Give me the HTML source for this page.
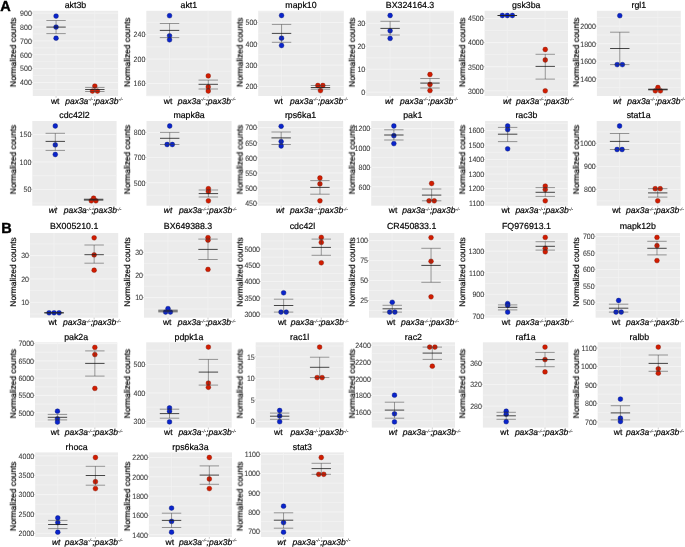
<!DOCTYPE html>
<html><head><meta charset="utf-8"><style>
html,body{margin:0;padding:0;background:#fff;width:685px;height:547px;overflow:hidden}
svg{display:block;will-change:transform}
text{font-family:"Liberation Sans",sans-serif;text-rendering:geometricPrecision;filter:url(#tb)}
.tk{fill:#3a3a3a;stroke:#3a3a3a;stroke-width:0.08}
.tt{fill:#000;stroke:#000;stroke-width:0.2}
.sp{fill:#333;stroke:#333;stroke-width:0.1}
</style></head><body>
<svg width="685" height="547" viewBox="0 0 685 547">
<defs><filter id="tb" x="-10%" y="-30%" width="120%" height="160%"><feGaussianBlur stdDeviation="0.28"/></filter></defs>
<rect width="685" height="547" fill="#fff"/>
<g>
<text x="0.3" y="10.7" font-size="14.5" font-weight="bold" fill="#000" stroke="#000" stroke-width="0.4">A</text>
<text x="1.2" y="232.7" font-size="14.5" font-weight="bold" fill="#000" stroke="#000" stroke-width="0.4">B</text>
<rect x="32.8" y="10.8" width="85.3" height="85.2" fill="#ebebeb"/>
<line x1="32.8" x2="118.1" y1="20.04" y2="20.04" stroke="#f2f2f2" stroke-width="0.8"/>
<line x1="32.8" x2="118.1" y1="33.92" y2="33.92" stroke="#f2f2f2" stroke-width="0.8"/>
<line x1="32.8" x2="118.1" y1="47.8" y2="47.8" stroke="#f2f2f2" stroke-width="0.8"/>
<line x1="32.8" x2="118.1" y1="61.68" y2="61.68" stroke="#f2f2f2" stroke-width="0.8"/>
<line x1="32.8" x2="118.1" y1="75.56" y2="75.56" stroke="#f2f2f2" stroke-width="0.8"/>
<line x1="32.8" x2="118.1" y1="89.44" y2="89.44" stroke="#f2f2f2" stroke-width="0.8"/>
<line x1="32.8" x2="118.1" y1="13.1" y2="13.1" stroke="#f6f6f6" stroke-width="0.8"/>
<line x1="32.8" x2="118.1" y1="26.98" y2="26.98" stroke="#f6f6f6" stroke-width="0.8"/>
<line x1="32.8" x2="118.1" y1="40.86" y2="40.86" stroke="#f6f6f6" stroke-width="0.8"/>
<line x1="32.8" x2="118.1" y1="54.74" y2="54.74" stroke="#f6f6f6" stroke-width="0.8"/>
<line x1="32.8" x2="118.1" y1="68.62" y2="68.62" stroke="#f6f6f6" stroke-width="0.8"/>
<line x1="32.8" x2="118.1" y1="82.5" y2="82.5" stroke="#f6f6f6" stroke-width="0.8"/>
<line x1="56.06" x2="56.06" y1="10.8" y2="96" stroke="#f1f1f1" stroke-width="0.8"/>
<line x1="94.84" x2="94.84" y1="10.8" y2="96" stroke="#f1f1f1" stroke-width="0.8"/>
<line x1="31.5" x2="32.8" y1="13.1" y2="13.1" stroke="#999999" stroke-width="0.5"/>
<text transform="translate(31.8,15.9) scale(0.9,1)" text-anchor="end" font-size="7.8" class="tk">900</text>
<line x1="31.5" x2="32.8" y1="26.98" y2="26.98" stroke="#999999" stroke-width="0.5"/>
<text transform="translate(31.8,29.78) scale(0.9,1)" text-anchor="end" font-size="7.8" class="tk">800</text>
<line x1="31.5" x2="32.8" y1="40.86" y2="40.86" stroke="#999999" stroke-width="0.5"/>
<text transform="translate(31.8,43.66) scale(0.9,1)" text-anchor="end" font-size="7.8" class="tk">700</text>
<line x1="31.5" x2="32.8" y1="54.74" y2="54.74" stroke="#999999" stroke-width="0.5"/>
<text transform="translate(31.8,57.54) scale(0.9,1)" text-anchor="end" font-size="7.8" class="tk">600</text>
<line x1="31.5" x2="32.8" y1="68.62" y2="68.62" stroke="#999999" stroke-width="0.5"/>
<text transform="translate(31.8,71.42) scale(0.9,1)" text-anchor="end" font-size="7.8" class="tk">500</text>
<line x1="31.5" x2="32.8" y1="82.5" y2="82.5" stroke="#999999" stroke-width="0.5"/>
<text transform="translate(31.8,85.3) scale(0.9,1)" text-anchor="end" font-size="7.8" class="tk">400</text>
<line x1="56.06" x2="56.06" y1="96" y2="97.8" stroke="#999999" stroke-width="0.5"/>
<line x1="94.84" x2="94.84" y1="96" y2="97.8" stroke="#999999" stroke-width="0.5"/>
<circle cx="56.06" cy="16.1" r="2.4" fill="#0a24cc" stroke="#00106a" stroke-width="0.4"/>
<circle cx="56.06" cy="27.1" r="2.4" fill="#0a24cc" stroke="#00106a" stroke-width="0.4"/>
<circle cx="56.06" cy="38.2" r="2.4" fill="#0a24cc" stroke="#00106a" stroke-width="0.4"/>
<circle cx="94.84" cy="86.1" r="2.4" fill="#d21c00" stroke="#7a0e00" stroke-width="0.4"/>
<circle cx="92.44" cy="91.1" r="2.4" fill="#d21c00" stroke="#7a0e00" stroke-width="0.4"/>
<circle cx="97.44" cy="91.1" r="2.4" fill="#d21c00" stroke="#7a0e00" stroke-width="0.4"/>
<line x1="56.06" x2="56.06" y1="20.5" y2="33.6" stroke="#3a3a3a" stroke-width="0.5"/>
<line x1="46.36" x2="65.76" y1="20.5" y2="20.5" stroke="#3a3a3a" stroke-width="0.5"/>
<line x1="46.36" x2="65.76" y1="33.6" y2="33.6" stroke="#3a3a3a" stroke-width="0.5"/>
<line x1="46.36" x2="65.76" y1="27.1" y2="27.1" stroke="#1a1a1a" stroke-width="0.8"/>
<line x1="94.84" x2="94.84" y1="87.4" y2="91.5" stroke="#3a3a3a" stroke-width="0.5"/>
<line x1="85.14" x2="104.54" y1="87.4" y2="87.4" stroke="#3a3a3a" stroke-width="0.5"/>
<line x1="85.14" x2="104.54" y1="91.5" y2="91.5" stroke="#3a3a3a" stroke-width="0.5"/>
<line x1="85.14" x2="104.54" y1="89.5" y2="89.5" stroke="#1a1a1a" stroke-width="0.8"/>
<text x="75.45" y="8.3" text-anchor="middle" font-size="8.8" class="tt">akt3b</text>
<text transform="translate(15.95,52.3) rotate(-90)" text-anchor="middle" font-size="8.4" class="tt">Normalized counts</text>
<text x="50.9" y="103.6" font-size="8.5" class="tt">wt</text>
<text x="65.2" y="103.6" font-size="8.5" font-style="italic" class="tt">pax3a<tspan font-size="4.8" dy="-2.5" class="sp">-/-</tspan><tspan dy="2.5">;pax3b</tspan><tspan font-size="4.8" dy="-2.5" class="sp">-/-</tspan></text>
<rect x="146.3" y="10.8" width="85.2" height="85.2" fill="#ebebeb"/>
<line x1="146.3" x2="231.5" y1="22.38" y2="22.38" stroke="#f2f2f2" stroke-width="0.8"/>
<line x1="146.3" x2="231.5" y1="46.83" y2="46.83" stroke="#f2f2f2" stroke-width="0.8"/>
<line x1="146.3" x2="231.5" y1="71.28" y2="71.28" stroke="#f2f2f2" stroke-width="0.8"/>
<line x1="146.3" x2="231.5" y1="95.72" y2="95.72" stroke="#f2f2f2" stroke-width="0.8"/>
<line x1="146.3" x2="231.5" y1="34.6" y2="34.6" stroke="#f6f6f6" stroke-width="0.8"/>
<line x1="146.3" x2="231.5" y1="59.05" y2="59.05" stroke="#f6f6f6" stroke-width="0.8"/>
<line x1="146.3" x2="231.5" y1="83.5" y2="83.5" stroke="#f6f6f6" stroke-width="0.8"/>
<line x1="169.54" x2="169.54" y1="10.8" y2="96" stroke="#f1f1f1" stroke-width="0.8"/>
<line x1="208.26" x2="208.26" y1="10.8" y2="96" stroke="#f1f1f1" stroke-width="0.8"/>
<line x1="145" x2="146.3" y1="34.6" y2="34.6" stroke="#999999" stroke-width="0.5"/>
<text transform="translate(145.3,37.4) scale(0.9,1)" text-anchor="end" font-size="7.8" class="tk">240</text>
<line x1="145" x2="146.3" y1="59.05" y2="59.05" stroke="#999999" stroke-width="0.5"/>
<text transform="translate(145.3,61.85) scale(0.9,1)" text-anchor="end" font-size="7.8" class="tk">200</text>
<line x1="145" x2="146.3" y1="83.5" y2="83.5" stroke="#999999" stroke-width="0.5"/>
<text transform="translate(145.3,86.3) scale(0.9,1)" text-anchor="end" font-size="7.8" class="tk">160</text>
<line x1="169.54" x2="169.54" y1="96" y2="97.8" stroke="#999999" stroke-width="0.5"/>
<line x1="208.26" x2="208.26" y1="96" y2="97.8" stroke="#999999" stroke-width="0.5"/>
<circle cx="169.54" cy="15.7" r="2.4" fill="#0a24cc" stroke="#00106a" stroke-width="0.4"/>
<circle cx="169.54" cy="35.8" r="2.4" fill="#0a24cc" stroke="#00106a" stroke-width="0.4"/>
<circle cx="169.54" cy="39.8" r="2.4" fill="#0a24cc" stroke="#00106a" stroke-width="0.4"/>
<circle cx="208.26" cy="75.9" r="2.4" fill="#d21c00" stroke="#7a0e00" stroke-width="0.4"/>
<circle cx="208.26" cy="86.9" r="2.4" fill="#d21c00" stroke="#7a0e00" stroke-width="0.4"/>
<circle cx="208.26" cy="91" r="2.4" fill="#d21c00" stroke="#7a0e00" stroke-width="0.4"/>
<line x1="169.54" x2="169.54" y1="23.5" y2="37.6" stroke="#3a3a3a" stroke-width="0.5"/>
<line x1="159.84" x2="179.24" y1="23.5" y2="23.5" stroke="#3a3a3a" stroke-width="0.5"/>
<line x1="159.84" x2="179.24" y1="37.6" y2="37.6" stroke="#3a3a3a" stroke-width="0.5"/>
<line x1="159.84" x2="179.24" y1="30.4" y2="30.4" stroke="#1a1a1a" stroke-width="0.8"/>
<line x1="208.26" x2="208.26" y1="80.1" y2="89" stroke="#3a3a3a" stroke-width="0.5"/>
<line x1="198.56" x2="217.96" y1="80.1" y2="80.1" stroke="#3a3a3a" stroke-width="0.5"/>
<line x1="198.56" x2="217.96" y1="89" y2="89" stroke="#3a3a3a" stroke-width="0.5"/>
<line x1="198.56" x2="217.96" y1="84.3" y2="84.3" stroke="#1a1a1a" stroke-width="0.8"/>
<text x="188.9" y="8.3" text-anchor="middle" font-size="8.8" class="tt">akt1</text>
<text transform="translate(130.05,52.3) rotate(-90)" text-anchor="middle" font-size="8.4" class="tt">Normalized counts</text>
<text x="163.8" y="103.6" font-size="8.5" class="tt">wt</text>
<text x="177.8" y="103.6" font-size="8.5" font-style="italic" class="tt">pax3a<tspan font-size="4.8" dy="-2.5" class="sp">-/-</tspan><tspan dy="2.5">;pax3b</tspan><tspan font-size="4.8" dy="-2.5" class="sp">-/-</tspan></text>
<rect x="258.2" y="10.8" width="85.6" height="85.2" fill="#ebebeb"/>
<line x1="258.2" x2="343.8" y1="11.83" y2="11.83" stroke="#f2f2f2" stroke-width="0.8"/>
<line x1="258.2" x2="343.8" y1="33.17" y2="33.17" stroke="#f2f2f2" stroke-width="0.8"/>
<line x1="258.2" x2="343.8" y1="54.5" y2="54.5" stroke="#f2f2f2" stroke-width="0.8"/>
<line x1="258.2" x2="343.8" y1="75.83" y2="75.83" stroke="#f2f2f2" stroke-width="0.8"/>
<line x1="258.2" x2="343.8" y1="22.5" y2="22.5" stroke="#f6f6f6" stroke-width="0.8"/>
<line x1="258.2" x2="343.8" y1="43.83" y2="43.83" stroke="#f6f6f6" stroke-width="0.8"/>
<line x1="258.2" x2="343.8" y1="65.17" y2="65.17" stroke="#f6f6f6" stroke-width="0.8"/>
<line x1="258.2" x2="343.8" y1="86.5" y2="86.5" stroke="#f6f6f6" stroke-width="0.8"/>
<line x1="281.55" x2="281.55" y1="10.8" y2="96" stroke="#f1f1f1" stroke-width="0.8"/>
<line x1="320.45" x2="320.45" y1="10.8" y2="96" stroke="#f1f1f1" stroke-width="0.8"/>
<line x1="256.9" x2="258.2" y1="22.5" y2="22.5" stroke="#999999" stroke-width="0.5"/>
<text transform="translate(257.2,25.3) scale(0.9,1)" text-anchor="end" font-size="7.8" class="tk">500</text>
<line x1="256.9" x2="258.2" y1="43.83" y2="43.83" stroke="#999999" stroke-width="0.5"/>
<text transform="translate(257.2,46.63) scale(0.9,1)" text-anchor="end" font-size="7.8" class="tk">400</text>
<line x1="256.9" x2="258.2" y1="65.17" y2="65.17" stroke="#999999" stroke-width="0.5"/>
<text transform="translate(257.2,67.97) scale(0.9,1)" text-anchor="end" font-size="7.8" class="tk">300</text>
<line x1="256.9" x2="258.2" y1="86.5" y2="86.5" stroke="#999999" stroke-width="0.5"/>
<text transform="translate(257.2,89.3) scale(0.9,1)" text-anchor="end" font-size="7.8" class="tk">200</text>
<line x1="281.55" x2="281.55" y1="96" y2="97.8" stroke="#999999" stroke-width="0.5"/>
<line x1="320.45" x2="320.45" y1="96" y2="97.8" stroke="#999999" stroke-width="0.5"/>
<circle cx="281.55" cy="15.5" r="2.4" fill="#0a24cc" stroke="#00106a" stroke-width="0.4"/>
<circle cx="281.55" cy="38.2" r="2.4" fill="#0a24cc" stroke="#00106a" stroke-width="0.4"/>
<circle cx="281.55" cy="45.5" r="2.4" fill="#0a24cc" stroke="#00106a" stroke-width="0.4"/>
<circle cx="317.85" cy="85.5" r="2.4" fill="#d21c00" stroke="#7a0e00" stroke-width="0.4"/>
<circle cx="322.85" cy="85.5" r="2.4" fill="#d21c00" stroke="#7a0e00" stroke-width="0.4"/>
<circle cx="320.45" cy="90.6" r="2.4" fill="#d21c00" stroke="#7a0e00" stroke-width="0.4"/>
<line x1="281.55" x2="281.55" y1="24.4" y2="42.3" stroke="#3a3a3a" stroke-width="0.5"/>
<line x1="271.85" x2="291.25" y1="24.4" y2="24.4" stroke="#3a3a3a" stroke-width="0.5"/>
<line x1="271.85" x2="291.25" y1="42.3" y2="42.3" stroke="#3a3a3a" stroke-width="0.5"/>
<line x1="271.85" x2="291.25" y1="33.4" y2="33.4" stroke="#1a1a1a" stroke-width="0.8"/>
<line x1="320.45" x2="320.45" y1="85.5" y2="89.2" stroke="#3a3a3a" stroke-width="0.5"/>
<line x1="310.75" x2="330.15" y1="85.5" y2="85.5" stroke="#3a3a3a" stroke-width="0.5"/>
<line x1="310.75" x2="330.15" y1="89.2" y2="89.2" stroke="#3a3a3a" stroke-width="0.5"/>
<line x1="310.75" x2="330.15" y1="87.5" y2="87.5" stroke="#1a1a1a" stroke-width="0.8"/>
<text x="301" y="8.3" text-anchor="middle" font-size="8.8" class="tt">mapk10</text>
<text transform="translate(242.65,52.3) rotate(-90)" text-anchor="middle" font-size="8.4" class="tt">Normalized counts</text>
<text x="274.3" y="103.6" font-size="8.5" class="tt">wt</text>
<text x="290.1" y="103.6" font-size="8.5" font-style="italic" class="tt">pax3a<tspan font-size="4.8" dy="-2.5" class="sp">-/-</tspan><tspan dy="2.5">;pax3b</tspan><tspan font-size="4.8" dy="-2.5" class="sp">-/-</tspan></text>
<rect x="366.2" y="10.8" width="87.7" height="85.2" fill="#ebebeb"/>
<line x1="366.2" x2="453.9" y1="11.82" y2="11.82" stroke="#f2f2f2" stroke-width="0.8"/>
<line x1="366.2" x2="453.9" y1="34.78" y2="34.78" stroke="#f2f2f2" stroke-width="0.8"/>
<line x1="366.2" x2="453.9" y1="57.75" y2="57.75" stroke="#f2f2f2" stroke-width="0.8"/>
<line x1="366.2" x2="453.9" y1="80.72" y2="80.72" stroke="#f2f2f2" stroke-width="0.8"/>
<line x1="366.2" x2="453.9" y1="23.3" y2="23.3" stroke="#f6f6f6" stroke-width="0.8"/>
<line x1="366.2" x2="453.9" y1="46.27" y2="46.27" stroke="#f6f6f6" stroke-width="0.8"/>
<line x1="366.2" x2="453.9" y1="69.23" y2="69.23" stroke="#f6f6f6" stroke-width="0.8"/>
<line x1="366.2" x2="453.9" y1="92.2" y2="92.2" stroke="#f6f6f6" stroke-width="0.8"/>
<line x1="390.12" x2="390.12" y1="10.8" y2="96" stroke="#f1f1f1" stroke-width="0.8"/>
<line x1="429.98" x2="429.98" y1="10.8" y2="96" stroke="#f1f1f1" stroke-width="0.8"/>
<line x1="364.9" x2="366.2" y1="23.3" y2="23.3" stroke="#999999" stroke-width="0.5"/>
<text transform="translate(365.2,26.1) scale(0.9,1)" text-anchor="end" font-size="7.8" class="tk">30</text>
<line x1="364.9" x2="366.2" y1="46.27" y2="46.27" stroke="#999999" stroke-width="0.5"/>
<text transform="translate(365.2,49.07) scale(0.9,1)" text-anchor="end" font-size="7.8" class="tk">20</text>
<line x1="364.9" x2="366.2" y1="69.23" y2="69.23" stroke="#999999" stroke-width="0.5"/>
<text transform="translate(365.2,72.03) scale(0.9,1)" text-anchor="end" font-size="7.8" class="tk">10</text>
<line x1="364.9" x2="366.2" y1="92.2" y2="92.2" stroke="#999999" stroke-width="0.5"/>
<text transform="translate(365.2,95) scale(0.9,1)" text-anchor="end" font-size="7.8" class="tk">0</text>
<line x1="390.12" x2="390.12" y1="96" y2="97.8" stroke="#999999" stroke-width="0.5"/>
<line x1="429.98" x2="429.98" y1="96" y2="97.8" stroke="#999999" stroke-width="0.5"/>
<circle cx="390.12" cy="15.5" r="2.4" fill="#0a24cc" stroke="#00106a" stroke-width="0.4"/>
<circle cx="390.12" cy="30.8" r="2.4" fill="#0a24cc" stroke="#00106a" stroke-width="0.4"/>
<circle cx="390.12" cy="38.4" r="2.4" fill="#0a24cc" stroke="#00106a" stroke-width="0.4"/>
<circle cx="429.98" cy="74.5" r="2.4" fill="#d21c00" stroke="#7a0e00" stroke-width="0.4"/>
<circle cx="429.98" cy="84.5" r="2.4" fill="#d21c00" stroke="#7a0e00" stroke-width="0.4"/>
<circle cx="429.98" cy="90.6" r="2.4" fill="#d21c00" stroke="#7a0e00" stroke-width="0.4"/>
<line x1="390.12" x2="390.12" y1="21.3" y2="35" stroke="#3a3a3a" stroke-width="0.5"/>
<line x1="380.42" x2="399.82" y1="21.3" y2="21.3" stroke="#3a3a3a" stroke-width="0.5"/>
<line x1="380.42" x2="399.82" y1="35" y2="35" stroke="#3a3a3a" stroke-width="0.5"/>
<line x1="380.42" x2="399.82" y1="28.4" y2="28.4" stroke="#1a1a1a" stroke-width="0.8"/>
<line x1="429.98" x2="429.98" y1="78.5" y2="88" stroke="#3a3a3a" stroke-width="0.5"/>
<line x1="420.28" x2="439.68" y1="78.5" y2="78.5" stroke="#3a3a3a" stroke-width="0.5"/>
<line x1="420.28" x2="439.68" y1="88" y2="88" stroke="#3a3a3a" stroke-width="0.5"/>
<line x1="420.28" x2="439.68" y1="83.1" y2="83.1" stroke="#1a1a1a" stroke-width="0.8"/>
<text x="410.05" y="8.3" text-anchor="middle" font-size="8.8" class="tt">BX324164.3</text>
<text transform="translate(354.85,52.3) rotate(-90)" text-anchor="middle" font-size="8.4" class="tt">Normalized counts</text>
<text x="384.9" y="103.6" font-size="8.5" font-style="italic" class="tt">wt</text>
<text x="400.1" y="103.6" font-size="8.5" font-style="italic" class="tt">pax3a<tspan font-size="4.8" dy="-2.5" class="sp">-/-</tspan><tspan dy="2.5">;pax3b</tspan><tspan font-size="4.8" dy="-2.5" class="sp">-/-</tspan></text>
<rect x="484.6" y="10.8" width="83.4" height="85.2" fill="#ebebeb"/>
<line x1="484.6" x2="568" y1="30.55" y2="30.55" stroke="#f2f2f2" stroke-width="0.8"/>
<line x1="484.6" x2="568" y1="54.65" y2="54.65" stroke="#f2f2f2" stroke-width="0.8"/>
<line x1="484.6" x2="568" y1="78.75" y2="78.75" stroke="#f2f2f2" stroke-width="0.8"/>
<line x1="484.6" x2="568" y1="18.5" y2="18.5" stroke="#f6f6f6" stroke-width="0.8"/>
<line x1="484.6" x2="568" y1="42.6" y2="42.6" stroke="#f6f6f6" stroke-width="0.8"/>
<line x1="484.6" x2="568" y1="66.7" y2="66.7" stroke="#f6f6f6" stroke-width="0.8"/>
<line x1="484.6" x2="568" y1="90.8" y2="90.8" stroke="#f6f6f6" stroke-width="0.8"/>
<line x1="507.35" x2="507.35" y1="10.8" y2="96" stroke="#f1f1f1" stroke-width="0.8"/>
<line x1="545.25" x2="545.25" y1="10.8" y2="96" stroke="#f1f1f1" stroke-width="0.8"/>
<line x1="483.3" x2="484.6" y1="18.5" y2="18.5" stroke="#999999" stroke-width="0.5"/>
<text transform="translate(483.6,21.3) scale(0.9,1)" text-anchor="end" font-size="7.8" class="tk">4500</text>
<line x1="483.3" x2="484.6" y1="42.6" y2="42.6" stroke="#999999" stroke-width="0.5"/>
<text transform="translate(483.6,45.4) scale(0.9,1)" text-anchor="end" font-size="7.8" class="tk">4000</text>
<line x1="483.3" x2="484.6" y1="66.7" y2="66.7" stroke="#999999" stroke-width="0.5"/>
<text transform="translate(483.6,69.5) scale(0.9,1)" text-anchor="end" font-size="7.8" class="tk">3500</text>
<line x1="483.3" x2="484.6" y1="90.8" y2="90.8" stroke="#999999" stroke-width="0.5"/>
<text transform="translate(483.6,93.6) scale(0.9,1)" text-anchor="end" font-size="7.8" class="tk">3000</text>
<line x1="507.35" x2="507.35" y1="96" y2="97.8" stroke="#999999" stroke-width="0.5"/>
<line x1="545.25" x2="545.25" y1="96" y2="97.8" stroke="#999999" stroke-width="0.5"/>
<circle cx="502.35" cy="15.5" r="2.4" fill="#0a24cc" stroke="#00106a" stroke-width="0.4"/>
<circle cx="507.35" cy="15.5" r="2.4" fill="#0a24cc" stroke="#00106a" stroke-width="0.4"/>
<circle cx="512.35" cy="15.5" r="2.4" fill="#0a24cc" stroke="#00106a" stroke-width="0.4"/>
<circle cx="545.25" cy="49.5" r="2.4" fill="#d21c00" stroke="#7a0e00" stroke-width="0.4"/>
<circle cx="545.25" cy="60" r="2.4" fill="#d21c00" stroke="#7a0e00" stroke-width="0.4"/>
<circle cx="545.25" cy="90.8" r="2.4" fill="#d21c00" stroke="#7a0e00" stroke-width="0.4"/>
<line x1="507.35" x2="507.35" y1="15.5" y2="15.5" stroke="#3a3a3a" stroke-width="0.5"/>
<line x1="497.65" x2="517.05" y1="15.5" y2="15.5" stroke="#3a3a3a" stroke-width="0.5"/>
<line x1="497.65" x2="517.05" y1="15.5" y2="15.5" stroke="#3a3a3a" stroke-width="0.5"/>
<line x1="497.65" x2="517.05" y1="15.5" y2="15.5" stroke="#1a1a1a" stroke-width="0.8"/>
<line x1="545.25" x2="545.25" y1="54.3" y2="79.1" stroke="#3a3a3a" stroke-width="0.5"/>
<line x1="535.55" x2="554.95" y1="54.3" y2="54.3" stroke="#3a3a3a" stroke-width="0.5"/>
<line x1="535.55" x2="554.95" y1="79.1" y2="79.1" stroke="#3a3a3a" stroke-width="0.5"/>
<line x1="535.55" x2="554.95" y1="66.4" y2="66.4" stroke="#1a1a1a" stroke-width="0.8"/>
<text x="526.3" y="8.3" text-anchor="middle" font-size="8.8" class="tt">gsk3ba</text>
<text transform="translate(465.15,52.3) rotate(-90)" text-anchor="middle" font-size="8.4" class="tt">Normalized counts</text>
<text x="502.9" y="103.6" font-size="8.5" font-style="italic" class="tt">wt</text>
<text x="516" y="103.6" font-size="8.5" font-style="italic" class="tt">pax3a<tspan font-size="4.8" dy="-2.5" class="sp">-/-</tspan><tspan dy="2.5">;pax3b</tspan><tspan font-size="4.8" dy="-2.5" class="sp">-/-</tspan></text>
<rect x="596.9" y="10.8" width="83.9" height="85.2" fill="#ebebeb"/>
<line x1="596.9" x2="680.8" y1="17.45" y2="17.45" stroke="#f2f2f2" stroke-width="0.8"/>
<line x1="596.9" x2="680.8" y1="34.95" y2="34.95" stroke="#f2f2f2" stroke-width="0.8"/>
<line x1="596.9" x2="680.8" y1="52.45" y2="52.45" stroke="#f2f2f2" stroke-width="0.8"/>
<line x1="596.9" x2="680.8" y1="69.95" y2="69.95" stroke="#f2f2f2" stroke-width="0.8"/>
<line x1="596.9" x2="680.8" y1="87.45" y2="87.45" stroke="#f2f2f2" stroke-width="0.8"/>
<line x1="596.9" x2="680.8" y1="26.2" y2="26.2" stroke="#f6f6f6" stroke-width="0.8"/>
<line x1="596.9" x2="680.8" y1="43.7" y2="43.7" stroke="#f6f6f6" stroke-width="0.8"/>
<line x1="596.9" x2="680.8" y1="61.2" y2="61.2" stroke="#f6f6f6" stroke-width="0.8"/>
<line x1="596.9" x2="680.8" y1="78.7" y2="78.7" stroke="#f6f6f6" stroke-width="0.8"/>
<line x1="619.78" x2="619.78" y1="10.8" y2="96" stroke="#f1f1f1" stroke-width="0.8"/>
<line x1="657.92" x2="657.92" y1="10.8" y2="96" stroke="#f1f1f1" stroke-width="0.8"/>
<line x1="595.6" x2="596.9" y1="26.2" y2="26.2" stroke="#999999" stroke-width="0.5"/>
<text transform="translate(595.9,29) scale(0.9,1)" text-anchor="end" font-size="7.8" class="tk">2000</text>
<line x1="595.6" x2="596.9" y1="43.7" y2="43.7" stroke="#999999" stroke-width="0.5"/>
<text transform="translate(595.9,46.5) scale(0.9,1)" text-anchor="end" font-size="7.8" class="tk">1800</text>
<line x1="595.6" x2="596.9" y1="61.2" y2="61.2" stroke="#999999" stroke-width="0.5"/>
<text transform="translate(595.9,64) scale(0.9,1)" text-anchor="end" font-size="7.8" class="tk">1600</text>
<line x1="595.6" x2="596.9" y1="78.7" y2="78.7" stroke="#999999" stroke-width="0.5"/>
<text transform="translate(595.9,81.5) scale(0.9,1)" text-anchor="end" font-size="7.8" class="tk">1400</text>
<line x1="619.78" x2="619.78" y1="96" y2="97.8" stroke="#999999" stroke-width="0.5"/>
<line x1="657.92" x2="657.92" y1="96" y2="97.8" stroke="#999999" stroke-width="0.5"/>
<circle cx="619.78" cy="15.7" r="2.4" fill="#0a24cc" stroke="#00106a" stroke-width="0.4"/>
<circle cx="617.18" cy="64.6" r="2.4" fill="#0a24cc" stroke="#00106a" stroke-width="0.4"/>
<circle cx="622.38" cy="64.6" r="2.4" fill="#0a24cc" stroke="#00106a" stroke-width="0.4"/>
<circle cx="657.92" cy="87.5" r="2.4" fill="#d21c00" stroke="#7a0e00" stroke-width="0.4"/>
<circle cx="655.32" cy="90.8" r="2.4" fill="#d21c00" stroke="#7a0e00" stroke-width="0.4"/>
<circle cx="660.42" cy="90.8" r="2.4" fill="#d21c00" stroke="#7a0e00" stroke-width="0.4"/>
<line x1="619.78" x2="619.78" y1="32.2" y2="64.6" stroke="#3a3a3a" stroke-width="0.5"/>
<line x1="610.08" x2="629.48" y1="32.2" y2="32.2" stroke="#3a3a3a" stroke-width="0.5"/>
<line x1="610.08" x2="629.48" y1="64.6" y2="64.6" stroke="#3a3a3a" stroke-width="0.5"/>
<line x1="610.08" x2="629.48" y1="48.5" y2="48.5" stroke="#1a1a1a" stroke-width="0.8"/>
<line x1="657.92" x2="657.92" y1="88.9" y2="90.1" stroke="#3a3a3a" stroke-width="0.5"/>
<line x1="648.22" x2="667.62" y1="88.9" y2="88.9" stroke="#3a3a3a" stroke-width="0.5"/>
<line x1="648.22" x2="667.62" y1="90.1" y2="90.1" stroke="#3a3a3a" stroke-width="0.5"/>
<line x1="648.22" x2="667.62" y1="89.5" y2="89.5" stroke="#1a1a1a" stroke-width="0.8"/>
<text x="638.85" y="8.3" text-anchor="middle" font-size="8.8" class="tt">rgl1</text>
<text transform="translate(578.95,52.3) rotate(-90)" text-anchor="middle" font-size="8.4" class="tt">Normalized counts</text>
<text x="612.9" y="103.6" font-size="8.5" font-style="italic" class="tt">wt</text>
<text x="627.2" y="103.6" font-size="8.5" font-style="italic" class="tt">pax3a<tspan font-size="4.8" dy="-2.5" class="sp">-/-</tspan><tspan dy="2.5">;pax3b</tspan><tspan font-size="4.8" dy="-2.5" class="sp">-/-</tspan></text>
<rect x="32.3" y="121" width="84.3" height="84.7" fill="#ebebeb"/>
<line x1="32.3" x2="116.6" y1="148.3" y2="148.3" stroke="#f2f2f2" stroke-width="0.8"/>
<line x1="32.3" x2="116.6" y1="175.7" y2="175.7" stroke="#f2f2f2" stroke-width="0.8"/>
<line x1="32.3" x2="116.6" y1="203.1" y2="203.1" stroke="#f2f2f2" stroke-width="0.8"/>
<line x1="32.3" x2="116.6" y1="134.6" y2="134.6" stroke="#f6f6f6" stroke-width="0.8"/>
<line x1="32.3" x2="116.6" y1="162" y2="162" stroke="#f6f6f6" stroke-width="0.8"/>
<line x1="32.3" x2="116.6" y1="189.4" y2="189.4" stroke="#f6f6f6" stroke-width="0.8"/>
<line x1="55.29" x2="55.29" y1="121" y2="205.7" stroke="#f1f1f1" stroke-width="0.8"/>
<line x1="93.61" x2="93.61" y1="121" y2="205.7" stroke="#f1f1f1" stroke-width="0.8"/>
<line x1="31" x2="32.3" y1="134.6" y2="134.6" stroke="#999999" stroke-width="0.5"/>
<text transform="translate(31.3,137.4) scale(0.9,1)" text-anchor="end" font-size="7.8" class="tk">150</text>
<line x1="31" x2="32.3" y1="162" y2="162" stroke="#999999" stroke-width="0.5"/>
<text transform="translate(31.3,164.8) scale(0.9,1)" text-anchor="end" font-size="7.8" class="tk">100</text>
<line x1="31" x2="32.3" y1="189.4" y2="189.4" stroke="#999999" stroke-width="0.5"/>
<text transform="translate(31.3,192.2) scale(0.9,1)" text-anchor="end" font-size="7.8" class="tk">50</text>
<line x1="55.29" x2="55.29" y1="205.7" y2="207.5" stroke="#999999" stroke-width="0.5"/>
<line x1="93.61" x2="93.61" y1="205.7" y2="207.5" stroke="#999999" stroke-width="0.5"/>
<circle cx="55.29" cy="126" r="2.4" fill="#0a24cc" stroke="#00106a" stroke-width="0.4"/>
<circle cx="55.29" cy="144.9" r="2.4" fill="#0a24cc" stroke="#00106a" stroke-width="0.4"/>
<circle cx="55.29" cy="154.5" r="2.4" fill="#0a24cc" stroke="#00106a" stroke-width="0.4"/>
<circle cx="93.61" cy="198.2" r="2.4" fill="#d21c00" stroke="#7a0e00" stroke-width="0.4"/>
<circle cx="91.31" cy="200.8" r="2.4" fill="#d21c00" stroke="#7a0e00" stroke-width="0.4"/>
<circle cx="95.91" cy="200.8" r="2.4" fill="#d21c00" stroke="#7a0e00" stroke-width="0.4"/>
<line x1="55.29" x2="55.29" y1="133.3" y2="150.4" stroke="#3a3a3a" stroke-width="0.5"/>
<line x1="45.59" x2="64.99" y1="133.3" y2="133.3" stroke="#3a3a3a" stroke-width="0.5"/>
<line x1="45.59" x2="64.99" y1="150.4" y2="150.4" stroke="#3a3a3a" stroke-width="0.5"/>
<line x1="45.59" x2="64.99" y1="141.4" y2="141.4" stroke="#1a1a1a" stroke-width="0.8"/>
<line x1="93.61" x2="93.61" y1="199" y2="200.4" stroke="#3a3a3a" stroke-width="0.5"/>
<line x1="83.91" x2="103.31" y1="199" y2="199" stroke="#3a3a3a" stroke-width="0.5"/>
<line x1="83.91" x2="103.31" y1="200.4" y2="200.4" stroke="#3a3a3a" stroke-width="0.5"/>
<line x1="83.91" x2="103.31" y1="199.7" y2="199.7" stroke="#1a1a1a" stroke-width="0.8"/>
<text x="74.45" y="117.6" text-anchor="middle" font-size="8.8" class="tt">cdc42l2</text>
<text transform="translate(15.95,159.5) rotate(-90)" text-anchor="middle" font-size="8.4" class="tt">Normalized counts</text>
<text x="48.7" y="213.3" font-size="8.5" font-style="italic" class="tt">wt</text>
<text x="63.7" y="213.3" font-size="8.5" font-style="italic" class="tt">pax3a<tspan font-size="4.8" dy="-2.5" class="sp">-/-</tspan><tspan dy="2.5">;pax3b</tspan><tspan font-size="4.8" dy="-2.5" class="sp">-/-</tspan></text>
<rect x="146.5" y="121" width="85.1" height="84.7" fill="#ebebeb"/>
<line x1="146.5" x2="231.6" y1="144.98" y2="144.98" stroke="#f2f2f2" stroke-width="0.8"/>
<line x1="146.5" x2="231.6" y1="170.12" y2="170.12" stroke="#f2f2f2" stroke-width="0.8"/>
<line x1="146.5" x2="231.6" y1="195.27" y2="195.27" stroke="#f2f2f2" stroke-width="0.8"/>
<line x1="146.5" x2="231.6" y1="132.4" y2="132.4" stroke="#f6f6f6" stroke-width="0.8"/>
<line x1="146.5" x2="231.6" y1="157.55" y2="157.55" stroke="#f6f6f6" stroke-width="0.8"/>
<line x1="146.5" x2="231.6" y1="182.7" y2="182.7" stroke="#f6f6f6" stroke-width="0.8"/>
<line x1="169.71" x2="169.71" y1="121" y2="205.7" stroke="#f1f1f1" stroke-width="0.8"/>
<line x1="208.39" x2="208.39" y1="121" y2="205.7" stroke="#f1f1f1" stroke-width="0.8"/>
<line x1="145.2" x2="146.5" y1="132.4" y2="132.4" stroke="#999999" stroke-width="0.5"/>
<text transform="translate(145.5,135.2) scale(0.9,1)" text-anchor="end" font-size="7.8" class="tk">800</text>
<line x1="145.2" x2="146.5" y1="157.55" y2="157.55" stroke="#999999" stroke-width="0.5"/>
<text transform="translate(145.5,160.35) scale(0.9,1)" text-anchor="end" font-size="7.8" class="tk">700</text>
<line x1="145.2" x2="146.5" y1="182.7" y2="182.7" stroke="#999999" stroke-width="0.5"/>
<text transform="translate(145.5,185.5) scale(0.9,1)" text-anchor="end" font-size="7.8" class="tk">500</text>
<line x1="169.71" x2="169.71" y1="205.7" y2="207.5" stroke="#999999" stroke-width="0.5"/>
<line x1="208.39" x2="208.39" y1="205.7" y2="207.5" stroke="#999999" stroke-width="0.5"/>
<circle cx="169.71" cy="126" r="2.4" fill="#0a24cc" stroke="#00106a" stroke-width="0.4"/>
<circle cx="167.11" cy="144.5" r="2.4" fill="#0a24cc" stroke="#00106a" stroke-width="0.4"/>
<circle cx="172.31" cy="144.5" r="2.4" fill="#0a24cc" stroke="#00106a" stroke-width="0.4"/>
<circle cx="208.39" cy="188.7" r="2.4" fill="#d21c00" stroke="#7a0e00" stroke-width="0.4"/>
<circle cx="208.39" cy="191.6" r="2.4" fill="#d21c00" stroke="#7a0e00" stroke-width="0.4"/>
<circle cx="208.39" cy="200.8" r="2.4" fill="#d21c00" stroke="#7a0e00" stroke-width="0.4"/>
<line x1="169.71" x2="169.71" y1="132.4" y2="144.5" stroke="#3a3a3a" stroke-width="0.5"/>
<line x1="160.01" x2="179.41" y1="132.4" y2="132.4" stroke="#3a3a3a" stroke-width="0.5"/>
<line x1="160.01" x2="179.41" y1="144.5" y2="144.5" stroke="#3a3a3a" stroke-width="0.5"/>
<line x1="160.01" x2="179.41" y1="138.3" y2="138.3" stroke="#1a1a1a" stroke-width="0.8"/>
<line x1="208.39" x2="208.39" y1="190" y2="197" stroke="#3a3a3a" stroke-width="0.5"/>
<line x1="198.69" x2="218.09" y1="190" y2="190" stroke="#3a3a3a" stroke-width="0.5"/>
<line x1="198.69" x2="218.09" y1="197" y2="197" stroke="#3a3a3a" stroke-width="0.5"/>
<line x1="198.69" x2="218.09" y1="193.6" y2="193.6" stroke="#1a1a1a" stroke-width="0.8"/>
<text x="189.05" y="117.6" text-anchor="middle" font-size="8.8" class="tt">mapk8a</text>
<text transform="translate(130.05,159.5) rotate(-90)" text-anchor="middle" font-size="8.4" class="tt">Normalized counts</text>
<text x="163.8" y="213.3" font-size="8.5" font-style="italic" class="tt">wt</text>
<text x="178.9" y="213.3" font-size="8.5" font-style="italic" class="tt">pax3a<tspan font-size="4.8" dy="-2.5" class="sp">-/-</tspan><tspan dy="2.5">;pax3b</tspan><tspan font-size="4.8" dy="-2.5" class="sp">-/-</tspan></text>
<rect x="257.9" y="121" width="85.3" height="84.7" fill="#ebebeb"/>
<line x1="257.9" x2="343.2" y1="135.16" y2="135.16" stroke="#f2f2f2" stroke-width="0.8"/>
<line x1="257.9" x2="343.2" y1="150.28" y2="150.28" stroke="#f2f2f2" stroke-width="0.8"/>
<line x1="257.9" x2="343.2" y1="165.4" y2="165.4" stroke="#f2f2f2" stroke-width="0.8"/>
<line x1="257.9" x2="343.2" y1="180.52" y2="180.52" stroke="#f2f2f2" stroke-width="0.8"/>
<line x1="257.9" x2="343.2" y1="195.64" y2="195.64" stroke="#f2f2f2" stroke-width="0.8"/>
<line x1="257.9" x2="343.2" y1="127.6" y2="127.6" stroke="#f6f6f6" stroke-width="0.8"/>
<line x1="257.9" x2="343.2" y1="142.72" y2="142.72" stroke="#f6f6f6" stroke-width="0.8"/>
<line x1="257.9" x2="343.2" y1="157.84" y2="157.84" stroke="#f6f6f6" stroke-width="0.8"/>
<line x1="257.9" x2="343.2" y1="172.96" y2="172.96" stroke="#f6f6f6" stroke-width="0.8"/>
<line x1="257.9" x2="343.2" y1="188.08" y2="188.08" stroke="#f6f6f6" stroke-width="0.8"/>
<line x1="257.9" x2="343.2" y1="203.2" y2="203.2" stroke="#f6f6f6" stroke-width="0.8"/>
<line x1="281.16" x2="281.16" y1="121" y2="205.7" stroke="#f1f1f1" stroke-width="0.8"/>
<line x1="319.94" x2="319.94" y1="121" y2="205.7" stroke="#f1f1f1" stroke-width="0.8"/>
<line x1="256.6" x2="257.9" y1="127.6" y2="127.6" stroke="#999999" stroke-width="0.5"/>
<text transform="translate(256.9,130.4) scale(0.9,1)" text-anchor="end" font-size="7.8" class="tk">700</text>
<line x1="256.6" x2="257.9" y1="142.72" y2="142.72" stroke="#999999" stroke-width="0.5"/>
<text transform="translate(256.9,145.52) scale(0.9,1)" text-anchor="end" font-size="7.8" class="tk">650</text>
<line x1="256.6" x2="257.9" y1="157.84" y2="157.84" stroke="#999999" stroke-width="0.5"/>
<text transform="translate(256.9,160.64) scale(0.9,1)" text-anchor="end" font-size="7.8" class="tk">600</text>
<line x1="256.6" x2="257.9" y1="172.96" y2="172.96" stroke="#999999" stroke-width="0.5"/>
<text transform="translate(256.9,175.76) scale(0.9,1)" text-anchor="end" font-size="7.8" class="tk">550</text>
<line x1="256.6" x2="257.9" y1="188.08" y2="188.08" stroke="#999999" stroke-width="0.5"/>
<text transform="translate(256.9,190.88) scale(0.9,1)" text-anchor="end" font-size="7.8" class="tk">500</text>
<line x1="256.6" x2="257.9" y1="203.2" y2="203.2" stroke="#999999" stroke-width="0.5"/>
<text transform="translate(256.9,206) scale(0.9,1)" text-anchor="end" font-size="7.8" class="tk">450</text>
<line x1="281.16" x2="281.16" y1="205.7" y2="207.5" stroke="#999999" stroke-width="0.5"/>
<line x1="319.94" x2="319.94" y1="205.7" y2="207.5" stroke="#999999" stroke-width="0.5"/>
<circle cx="281.16" cy="126.3" r="2.4" fill="#0a24cc" stroke="#00106a" stroke-width="0.4"/>
<circle cx="281.16" cy="141.6" r="2.4" fill="#0a24cc" stroke="#00106a" stroke-width="0.4"/>
<circle cx="281.16" cy="146" r="2.4" fill="#0a24cc" stroke="#00106a" stroke-width="0.4"/>
<circle cx="319.94" cy="178" r="2.4" fill="#d21c00" stroke="#7a0e00" stroke-width="0.4"/>
<circle cx="319.94" cy="183.9" r="2.4" fill="#d21c00" stroke="#7a0e00" stroke-width="0.4"/>
<circle cx="319.94" cy="200.8" r="2.4" fill="#d21c00" stroke="#7a0e00" stroke-width="0.4"/>
<line x1="281.16" x2="281.16" y1="132" y2="144.5" stroke="#3a3a3a" stroke-width="0.5"/>
<line x1="271.46" x2="290.86" y1="132" y2="132" stroke="#3a3a3a" stroke-width="0.5"/>
<line x1="271.46" x2="290.86" y1="144.5" y2="144.5" stroke="#3a3a3a" stroke-width="0.5"/>
<line x1="271.46" x2="290.86" y1="137.9" y2="137.9" stroke="#1a1a1a" stroke-width="0.8"/>
<line x1="319.94" x2="319.94" y1="180.6" y2="194.2" stroke="#3a3a3a" stroke-width="0.5"/>
<line x1="310.24" x2="329.64" y1="180.6" y2="180.6" stroke="#3a3a3a" stroke-width="0.5"/>
<line x1="310.24" x2="329.64" y1="194.2" y2="194.2" stroke="#3a3a3a" stroke-width="0.5"/>
<line x1="310.24" x2="329.64" y1="187.4" y2="187.4" stroke="#1a1a1a" stroke-width="0.8"/>
<text x="300.55" y="117.6" text-anchor="middle" font-size="8.8" class="tt">rps6ka1</text>
<text transform="translate(242.65,159.5) rotate(-90)" text-anchor="middle" font-size="8.4" class="tt">Normalized counts</text>
<text x="275.9" y="213.3" font-size="8.5" font-style="italic" class="tt">wt</text>
<text x="290" y="213.3" font-size="8.5" font-style="italic" class="tt">pax3a<tspan font-size="4.8" dy="-2.5" class="sp">-/-</tspan><tspan dy="2.5">;pax3b</tspan><tspan font-size="4.8" dy="-2.5" class="sp">-/-</tspan></text>
<rect x="371.2" y="121" width="83.1" height="84.7" fill="#ebebeb"/>
<line x1="371.2" x2="454.3" y1="138.28" y2="138.28" stroke="#f2f2f2" stroke-width="0.8"/>
<line x1="371.2" x2="454.3" y1="157.65" y2="157.65" stroke="#f2f2f2" stroke-width="0.8"/>
<line x1="371.2" x2="454.3" y1="177.02" y2="177.02" stroke="#f2f2f2" stroke-width="0.8"/>
<line x1="371.2" x2="454.3" y1="196.38" y2="196.38" stroke="#f2f2f2" stroke-width="0.8"/>
<line x1="371.2" x2="454.3" y1="128.6" y2="128.6" stroke="#f6f6f6" stroke-width="0.8"/>
<line x1="371.2" x2="454.3" y1="147.97" y2="147.97" stroke="#f6f6f6" stroke-width="0.8"/>
<line x1="371.2" x2="454.3" y1="167.33" y2="167.33" stroke="#f6f6f6" stroke-width="0.8"/>
<line x1="371.2" x2="454.3" y1="186.7" y2="186.7" stroke="#f6f6f6" stroke-width="0.8"/>
<line x1="393.86" x2="393.86" y1="121" y2="205.7" stroke="#f1f1f1" stroke-width="0.8"/>
<line x1="431.64" x2="431.64" y1="121" y2="205.7" stroke="#f1f1f1" stroke-width="0.8"/>
<line x1="369.9" x2="371.2" y1="128.6" y2="128.6" stroke="#999999" stroke-width="0.5"/>
<text transform="translate(370.2,131.4) scale(0.9,1)" text-anchor="end" font-size="7.8" class="tk">1200</text>
<line x1="369.9" x2="371.2" y1="147.97" y2="147.97" stroke="#999999" stroke-width="0.5"/>
<text transform="translate(370.2,150.77) scale(0.9,1)" text-anchor="end" font-size="7.8" class="tk">1000</text>
<line x1="369.9" x2="371.2" y1="167.33" y2="167.33" stroke="#999999" stroke-width="0.5"/>
<text transform="translate(370.2,170.13) scale(0.9,1)" text-anchor="end" font-size="7.8" class="tk">800</text>
<line x1="369.9" x2="371.2" y1="186.7" y2="186.7" stroke="#999999" stroke-width="0.5"/>
<text transform="translate(370.2,189.5) scale(0.9,1)" text-anchor="end" font-size="7.8" class="tk">600</text>
<line x1="393.86" x2="393.86" y1="205.7" y2="207.5" stroke="#999999" stroke-width="0.5"/>
<line x1="431.64" x2="431.64" y1="205.7" y2="207.5" stroke="#999999" stroke-width="0.5"/>
<circle cx="393.86" cy="126" r="2.4" fill="#0a24cc" stroke="#00106a" stroke-width="0.4"/>
<circle cx="393.86" cy="135.7" r="2.4" fill="#0a24cc" stroke="#00106a" stroke-width="0.4"/>
<circle cx="393.86" cy="143.6" r="2.4" fill="#0a24cc" stroke="#00106a" stroke-width="0.4"/>
<circle cx="431.64" cy="183.5" r="2.4" fill="#d21c00" stroke="#7a0e00" stroke-width="0.4"/>
<circle cx="429.04" cy="200.8" r="2.4" fill="#d21c00" stroke="#7a0e00" stroke-width="0.4"/>
<circle cx="434.24" cy="200.8" r="2.4" fill="#d21c00" stroke="#7a0e00" stroke-width="0.4"/>
<line x1="393.86" x2="393.86" y1="129.8" y2="140" stroke="#3a3a3a" stroke-width="0.5"/>
<line x1="384.16" x2="403.56" y1="129.8" y2="129.8" stroke="#3a3a3a" stroke-width="0.5"/>
<line x1="384.16" x2="403.56" y1="140" y2="140" stroke="#3a3a3a" stroke-width="0.5"/>
<line x1="384.16" x2="403.56" y1="135" y2="135" stroke="#1a1a1a" stroke-width="0.8"/>
<line x1="431.64" x2="431.64" y1="189" y2="200.8" stroke="#3a3a3a" stroke-width="0.5"/>
<line x1="421.94" x2="441.34" y1="189" y2="189" stroke="#3a3a3a" stroke-width="0.5"/>
<line x1="421.94" x2="441.34" y1="200.8" y2="200.8" stroke="#3a3a3a" stroke-width="0.5"/>
<line x1="421.94" x2="441.34" y1="195.1" y2="195.1" stroke="#1a1a1a" stroke-width="0.8"/>
<text x="412.75" y="117.6" text-anchor="middle" font-size="8.8" class="tt">pak1</text>
<text transform="translate(354.85,159.5) rotate(-90)" text-anchor="middle" font-size="8.4" class="tt">Normalized counts</text>
<text x="388.8" y="213.3" font-size="8.5" class="tt">wt</text>
<text x="402.2" y="213.3" font-size="8.5" font-style="italic" class="tt">pax3a<tspan font-size="4.8" dy="-2.5" class="sp">-/-</tspan><tspan dy="2.5">;pax3b</tspan><tspan font-size="4.8" dy="-2.5" class="sp">-/-</tspan></text>
<rect x="485.1" y="121" width="82.7" height="84.7" fill="#ebebeb"/>
<line x1="485.1" x2="567.8" y1="123.36" y2="123.36" stroke="#f2f2f2" stroke-width="0.8"/>
<line x1="485.1" x2="567.8" y1="137.84" y2="137.84" stroke="#f2f2f2" stroke-width="0.8"/>
<line x1="485.1" x2="567.8" y1="152.32" y2="152.32" stroke="#f2f2f2" stroke-width="0.8"/>
<line x1="485.1" x2="567.8" y1="166.8" y2="166.8" stroke="#f2f2f2" stroke-width="0.8"/>
<line x1="485.1" x2="567.8" y1="181.28" y2="181.28" stroke="#f2f2f2" stroke-width="0.8"/>
<line x1="485.1" x2="567.8" y1="195.76" y2="195.76" stroke="#f2f2f2" stroke-width="0.8"/>
<line x1="485.1" x2="567.8" y1="130.6" y2="130.6" stroke="#f6f6f6" stroke-width="0.8"/>
<line x1="485.1" x2="567.8" y1="145.08" y2="145.08" stroke="#f6f6f6" stroke-width="0.8"/>
<line x1="485.1" x2="567.8" y1="159.56" y2="159.56" stroke="#f6f6f6" stroke-width="0.8"/>
<line x1="485.1" x2="567.8" y1="174.04" y2="174.04" stroke="#f6f6f6" stroke-width="0.8"/>
<line x1="485.1" x2="567.8" y1="188.52" y2="188.52" stroke="#f6f6f6" stroke-width="0.8"/>
<line x1="485.1" x2="567.8" y1="203" y2="203" stroke="#f6f6f6" stroke-width="0.8"/>
<line x1="507.65" x2="507.65" y1="121" y2="205.7" stroke="#f1f1f1" stroke-width="0.8"/>
<line x1="545.25" x2="545.25" y1="121" y2="205.7" stroke="#f1f1f1" stroke-width="0.8"/>
<line x1="483.8" x2="485.1" y1="130.6" y2="130.6" stroke="#999999" stroke-width="0.5"/>
<text transform="translate(484.1,133.4) scale(0.9,1)" text-anchor="end" font-size="7.8" class="tk">1600</text>
<line x1="483.8" x2="485.1" y1="145.08" y2="145.08" stroke="#999999" stroke-width="0.5"/>
<text transform="translate(484.1,147.88) scale(0.9,1)" text-anchor="end" font-size="7.8" class="tk">1500</text>
<line x1="483.8" x2="485.1" y1="159.56" y2="159.56" stroke="#999999" stroke-width="0.5"/>
<text transform="translate(484.1,162.36) scale(0.9,1)" text-anchor="end" font-size="7.8" class="tk">1400</text>
<line x1="483.8" x2="485.1" y1="174.04" y2="174.04" stroke="#999999" stroke-width="0.5"/>
<text transform="translate(484.1,176.84) scale(0.9,1)" text-anchor="end" font-size="7.8" class="tk">1300</text>
<line x1="483.8" x2="485.1" y1="188.52" y2="188.52" stroke="#999999" stroke-width="0.5"/>
<text transform="translate(484.1,191.32) scale(0.9,1)" text-anchor="end" font-size="7.8" class="tk">1200</text>
<line x1="483.8" x2="485.1" y1="203" y2="203" stroke="#999999" stroke-width="0.5"/>
<text transform="translate(484.1,205.8) scale(0.9,1)" text-anchor="end" font-size="7.8" class="tk">1100</text>
<line x1="507.65" x2="507.65" y1="205.7" y2="207.5" stroke="#999999" stroke-width="0.5"/>
<line x1="545.25" x2="545.25" y1="205.7" y2="207.5" stroke="#999999" stroke-width="0.5"/>
<circle cx="507.65" cy="126" r="2.4" fill="#0a24cc" stroke="#00106a" stroke-width="0.4"/>
<circle cx="507.65" cy="129.6" r="2.4" fill="#0a24cc" stroke="#00106a" stroke-width="0.4"/>
<circle cx="507.65" cy="148.8" r="2.4" fill="#0a24cc" stroke="#00106a" stroke-width="0.4"/>
<circle cx="545.25" cy="186.1" r="2.4" fill="#d21c00" stroke="#7a0e00" stroke-width="0.4"/>
<circle cx="545.25" cy="189.6" r="2.4" fill="#d21c00" stroke="#7a0e00" stroke-width="0.4"/>
<circle cx="545.25" cy="200.8" r="2.4" fill="#d21c00" stroke="#7a0e00" stroke-width="0.4"/>
<line x1="507.65" x2="507.65" y1="127.4" y2="141.6" stroke="#3a3a3a" stroke-width="0.5"/>
<line x1="497.95" x2="517.35" y1="127.4" y2="127.4" stroke="#3a3a3a" stroke-width="0.5"/>
<line x1="497.95" x2="517.35" y1="141.6" y2="141.6" stroke="#3a3a3a" stroke-width="0.5"/>
<line x1="497.95" x2="517.35" y1="134.2" y2="134.2" stroke="#1a1a1a" stroke-width="0.8"/>
<line x1="545.25" x2="545.25" y1="187.6" y2="196.4" stroke="#3a3a3a" stroke-width="0.5"/>
<line x1="535.55" x2="554.95" y1="187.6" y2="187.6" stroke="#3a3a3a" stroke-width="0.5"/>
<line x1="535.55" x2="554.95" y1="196.4" y2="196.4" stroke="#3a3a3a" stroke-width="0.5"/>
<line x1="535.55" x2="554.95" y1="192.3" y2="192.3" stroke="#1a1a1a" stroke-width="0.8"/>
<text x="526.45" y="117.6" text-anchor="middle" font-size="8.8" class="tt">rac3b</text>
<text transform="translate(465.15,159.5) rotate(-90)" text-anchor="middle" font-size="8.4" class="tt">Normalized counts</text>
<text x="501.4" y="213.3" font-size="8.5" class="tt">wt</text>
<text x="515.4" y="213.3" font-size="8.5" font-style="italic" class="tt">pax3a<tspan font-size="4.8" dy="-2.5" class="sp">-/-</tspan><tspan dy="2.5">;pax3b</tspan><tspan font-size="4.8" dy="-2.5" class="sp">-/-</tspan></text>
<rect x="596.7" y="121" width="83.9" height="84.7" fill="#ebebeb"/>
<line x1="596.7" x2="680.6" y1="131.9" y2="131.9" stroke="#f2f2f2" stroke-width="0.8"/>
<line x1="596.7" x2="680.6" y1="154.9" y2="154.9" stroke="#f2f2f2" stroke-width="0.8"/>
<line x1="596.7" x2="680.6" y1="177.9" y2="177.9" stroke="#f2f2f2" stroke-width="0.8"/>
<line x1="596.7" x2="680.6" y1="200.9" y2="200.9" stroke="#f2f2f2" stroke-width="0.8"/>
<line x1="596.7" x2="680.6" y1="143.4" y2="143.4" stroke="#f6f6f6" stroke-width="0.8"/>
<line x1="596.7" x2="680.6" y1="166.4" y2="166.4" stroke="#f6f6f6" stroke-width="0.8"/>
<line x1="596.7" x2="680.6" y1="189.4" y2="189.4" stroke="#f6f6f6" stroke-width="0.8"/>
<line x1="619.58" x2="619.58" y1="121" y2="205.7" stroke="#f1f1f1" stroke-width="0.8"/>
<line x1="657.72" x2="657.72" y1="121" y2="205.7" stroke="#f1f1f1" stroke-width="0.8"/>
<line x1="595.4" x2="596.7" y1="143.4" y2="143.4" stroke="#999999" stroke-width="0.5"/>
<text transform="translate(595.7,146.2) scale(0.9,1)" text-anchor="end" font-size="7.8" class="tk">1000</text>
<line x1="595.4" x2="596.7" y1="166.4" y2="166.4" stroke="#999999" stroke-width="0.5"/>
<text transform="translate(595.7,169.2) scale(0.9,1)" text-anchor="end" font-size="7.8" class="tk">900</text>
<line x1="595.4" x2="596.7" y1="189.4" y2="189.4" stroke="#999999" stroke-width="0.5"/>
<text transform="translate(595.7,192.2) scale(0.9,1)" text-anchor="end" font-size="7.8" class="tk">800</text>
<line x1="619.58" x2="619.58" y1="205.7" y2="207.5" stroke="#999999" stroke-width="0.5"/>
<line x1="657.72" x2="657.72" y1="205.7" y2="207.5" stroke="#999999" stroke-width="0.5"/>
<circle cx="619.58" cy="126" r="2.4" fill="#0a24cc" stroke="#00106a" stroke-width="0.4"/>
<circle cx="617.08" cy="149.5" r="2.4" fill="#0a24cc" stroke="#00106a" stroke-width="0.4"/>
<circle cx="622.08" cy="149.5" r="2.4" fill="#0a24cc" stroke="#00106a" stroke-width="0.4"/>
<circle cx="655.22" cy="188.7" r="2.4" fill="#d21c00" stroke="#7a0e00" stroke-width="0.4"/>
<circle cx="660.22" cy="188.7" r="2.4" fill="#d21c00" stroke="#7a0e00" stroke-width="0.4"/>
<circle cx="657.72" cy="200.8" r="2.4" fill="#d21c00" stroke="#7a0e00" stroke-width="0.4"/>
<line x1="619.58" x2="619.58" y1="133.5" y2="149.5" stroke="#3a3a3a" stroke-width="0.5"/>
<line x1="609.88" x2="629.28" y1="133.5" y2="133.5" stroke="#3a3a3a" stroke-width="0.5"/>
<line x1="609.88" x2="629.28" y1="149.5" y2="149.5" stroke="#3a3a3a" stroke-width="0.5"/>
<line x1="609.88" x2="629.28" y1="141.4" y2="141.4" stroke="#1a1a1a" stroke-width="0.8"/>
<line x1="657.72" x2="657.72" y1="188.7" y2="197.1" stroke="#3a3a3a" stroke-width="0.5"/>
<line x1="648.02" x2="667.42" y1="188.7" y2="188.7" stroke="#3a3a3a" stroke-width="0.5"/>
<line x1="648.02" x2="667.42" y1="197.1" y2="197.1" stroke="#3a3a3a" stroke-width="0.5"/>
<line x1="648.02" x2="667.42" y1="192.9" y2="192.9" stroke="#1a1a1a" stroke-width="0.8"/>
<text x="638.65" y="117.6" text-anchor="middle" font-size="8.8" class="tt">stat1a</text>
<text transform="translate(578.95,159.5) rotate(-90)" text-anchor="middle" font-size="8.4" class="tt">Normalized counts</text>
<text x="612.2" y="213.3" font-size="8.5" class="tt">wt</text>
<text x="626" y="213.3" font-size="8.5" font-style="italic" class="tt">pax3a<tspan font-size="4.8" dy="-2.5" class="sp">-/-</tspan><tspan dy="2.5">;pax3b</tspan><tspan font-size="4.8" dy="-2.5" class="sp">-/-</tspan></text>
<rect x="30" y="233" width="88.2" height="84.7" fill="#ebebeb"/>
<line x1="30" x2="118.2" y1="243.92" y2="243.92" stroke="#f2f2f2" stroke-width="0.8"/>
<line x1="30" x2="118.2" y1="267.27" y2="267.27" stroke="#f2f2f2" stroke-width="0.8"/>
<line x1="30" x2="118.2" y1="290.62" y2="290.62" stroke="#f2f2f2" stroke-width="0.8"/>
<line x1="30" x2="118.2" y1="313.98" y2="313.98" stroke="#f2f2f2" stroke-width="0.8"/>
<line x1="30" x2="118.2" y1="255.6" y2="255.6" stroke="#f6f6f6" stroke-width="0.8"/>
<line x1="30" x2="118.2" y1="278.95" y2="278.95" stroke="#f6f6f6" stroke-width="0.8"/>
<line x1="30" x2="118.2" y1="302.3" y2="302.3" stroke="#f6f6f6" stroke-width="0.8"/>
<line x1="54.05" x2="54.05" y1="233" y2="317.7" stroke="#f1f1f1" stroke-width="0.8"/>
<line x1="94.15" x2="94.15" y1="233" y2="317.7" stroke="#f1f1f1" stroke-width="0.8"/>
<line x1="28.7" x2="30" y1="255.6" y2="255.6" stroke="#999999" stroke-width="0.5"/>
<text transform="translate(29,258.4) scale(0.9,1)" text-anchor="end" font-size="7.8" class="tk">30</text>
<line x1="28.7" x2="30" y1="278.95" y2="278.95" stroke="#999999" stroke-width="0.5"/>
<text transform="translate(29,281.75) scale(0.9,1)" text-anchor="end" font-size="7.8" class="tk">20</text>
<line x1="28.7" x2="30" y1="302.3" y2="302.3" stroke="#999999" stroke-width="0.5"/>
<text transform="translate(29,305.1) scale(0.9,1)" text-anchor="end" font-size="7.8" class="tk">10</text>
<line x1="54.05" x2="54.05" y1="317.7" y2="319.5" stroke="#999999" stroke-width="0.5"/>
<line x1="94.15" x2="94.15" y1="317.7" y2="319.5" stroke="#999999" stroke-width="0.5"/>
<circle cx="49.05" cy="312.8" r="2.4" fill="#0a24cc" stroke="#00106a" stroke-width="0.4"/>
<circle cx="54.05" cy="312.8" r="2.4" fill="#0a24cc" stroke="#00106a" stroke-width="0.4"/>
<circle cx="59.05" cy="312.8" r="2.4" fill="#0a24cc" stroke="#00106a" stroke-width="0.4"/>
<circle cx="94.15" cy="237.8" r="2.4" fill="#d21c00" stroke="#7a0e00" stroke-width="0.4"/>
<circle cx="94.15" cy="254.9" r="2.4" fill="#d21c00" stroke="#7a0e00" stroke-width="0.4"/>
<circle cx="94.15" cy="270.2" r="2.4" fill="#d21c00" stroke="#7a0e00" stroke-width="0.4"/>
<line x1="54.05" x2="54.05" y1="312.8" y2="312.8" stroke="#3a3a3a" stroke-width="0.5"/>
<line x1="44.35" x2="63.75" y1="312.8" y2="312.8" stroke="#3a3a3a" stroke-width="0.5"/>
<line x1="44.35" x2="63.75" y1="312.8" y2="312.8" stroke="#3a3a3a" stroke-width="0.5"/>
<line x1="44.35" x2="63.75" y1="312.8" y2="312.8" stroke="#1a1a1a" stroke-width="0.8"/>
<line x1="94.15" x2="94.15" y1="245" y2="263.2" stroke="#3a3a3a" stroke-width="0.5"/>
<line x1="84.45" x2="103.85" y1="245" y2="245" stroke="#3a3a3a" stroke-width="0.5"/>
<line x1="84.45" x2="103.85" y1="263.2" y2="263.2" stroke="#3a3a3a" stroke-width="0.5"/>
<line x1="84.45" x2="103.85" y1="254.7" y2="254.7" stroke="#1a1a1a" stroke-width="0.8"/>
<text x="74.1" y="229.3" text-anchor="middle" font-size="8.8" class="tt">BX005210.1</text>
<text transform="translate(15.95,272) rotate(-90)" text-anchor="middle" font-size="8.4" class="tt">Normalized counts</text>
<text x="48.4" y="325.3" font-size="8.5" class="tt">wt</text>
<text x="63" y="325.3" font-size="8.5" font-style="italic" class="tt">pax3a<tspan font-size="4.8" dy="-2.5" class="sp">-/-</tspan><tspan dy="2.5">;pax3b</tspan><tspan font-size="4.8" dy="-2.5" class="sp">-/-</tspan></text>
<rect x="144" y="233" width="88" height="84.7" fill="#ebebeb"/>
<line x1="144" x2="232" y1="240.98" y2="240.98" stroke="#f2f2f2" stroke-width="0.8"/>
<line x1="144" x2="232" y1="263.62" y2="263.62" stroke="#f2f2f2" stroke-width="0.8"/>
<line x1="144" x2="232" y1="286.28" y2="286.28" stroke="#f2f2f2" stroke-width="0.8"/>
<line x1="144" x2="232" y1="308.93" y2="308.93" stroke="#f2f2f2" stroke-width="0.8"/>
<line x1="144" x2="232" y1="252.3" y2="252.3" stroke="#f6f6f6" stroke-width="0.8"/>
<line x1="144" x2="232" y1="274.95" y2="274.95" stroke="#f6f6f6" stroke-width="0.8"/>
<line x1="144" x2="232" y1="297.6" y2="297.6" stroke="#f6f6f6" stroke-width="0.8"/>
<line x1="168" x2="168" y1="233" y2="317.7" stroke="#f1f1f1" stroke-width="0.8"/>
<line x1="208" x2="208" y1="233" y2="317.7" stroke="#f1f1f1" stroke-width="0.8"/>
<line x1="142.7" x2="144" y1="252.3" y2="252.3" stroke="#999999" stroke-width="0.5"/>
<text transform="translate(143,255.1) scale(0.9,1)" text-anchor="end" font-size="7.8" class="tk">30</text>
<line x1="142.7" x2="144" y1="274.95" y2="274.95" stroke="#999999" stroke-width="0.5"/>
<text transform="translate(143,277.75) scale(0.9,1)" text-anchor="end" font-size="7.8" class="tk">20</text>
<line x1="142.7" x2="144" y1="297.6" y2="297.6" stroke="#999999" stroke-width="0.5"/>
<text transform="translate(143,300.4) scale(0.9,1)" text-anchor="end" font-size="7.8" class="tk">10</text>
<line x1="168" x2="168" y1="317.7" y2="319.5" stroke="#999999" stroke-width="0.5"/>
<line x1="208" x2="208" y1="317.7" y2="319.5" stroke="#999999" stroke-width="0.5"/>
<circle cx="168" cy="308.6" r="2.4" fill="#0a24cc" stroke="#00106a" stroke-width="0.4"/>
<circle cx="165.6" cy="312.1" r="2.4" fill="#0a24cc" stroke="#00106a" stroke-width="0.4"/>
<circle cx="170.4" cy="312.1" r="2.4" fill="#0a24cc" stroke="#00106a" stroke-width="0.4"/>
<circle cx="208" cy="237.6" r="2.4" fill="#d21c00" stroke="#7a0e00" stroke-width="0.4"/>
<circle cx="208" cy="240.2" r="2.4" fill="#d21c00" stroke="#7a0e00" stroke-width="0.4"/>
<circle cx="208" cy="269.4" r="2.4" fill="#d21c00" stroke="#7a0e00" stroke-width="0.4"/>
<line x1="168" x2="168" y1="310" y2="312" stroke="#3a3a3a" stroke-width="0.5"/>
<line x1="158.3" x2="177.7" y1="310" y2="310" stroke="#3a3a3a" stroke-width="0.5"/>
<line x1="158.3" x2="177.7" y1="312" y2="312" stroke="#3a3a3a" stroke-width="0.5"/>
<line x1="158.3" x2="177.7" y1="311" y2="311" stroke="#1a1a1a" stroke-width="0.8"/>
<line x1="208" x2="208" y1="239.1" y2="259.5" stroke="#3a3a3a" stroke-width="0.5"/>
<line x1="198.3" x2="217.7" y1="239.1" y2="239.1" stroke="#3a3a3a" stroke-width="0.5"/>
<line x1="198.3" x2="217.7" y1="259.5" y2="259.5" stroke="#3a3a3a" stroke-width="0.5"/>
<line x1="198.3" x2="217.7" y1="249.4" y2="249.4" stroke="#1a1a1a" stroke-width="0.8"/>
<text x="188" y="229.3" text-anchor="middle" font-size="8.8" class="tt">BX649388.3</text>
<text transform="translate(130.05,272) rotate(-90)" text-anchor="middle" font-size="8.4" class="tt">Normalized counts</text>
<text x="162.9" y="325.3" font-size="8.5" class="tt">wt</text>
<text x="177.8" y="325.3" font-size="8.5" font-style="italic" class="tt">pax3a<tspan font-size="4.8" dy="-2.5" class="sp">-/-</tspan><tspan dy="2.5">;pax3b</tspan><tspan font-size="4.8" dy="-2.5" class="sp">-/-</tspan></text>
<rect x="261" y="233" width="82.9" height="84.7" fill="#ebebeb"/>
<line x1="261" x2="343.9" y1="240.86" y2="240.86" stroke="#f2f2f2" stroke-width="0.8"/>
<line x1="261" x2="343.9" y1="257.14" y2="257.14" stroke="#f2f2f2" stroke-width="0.8"/>
<line x1="261" x2="343.9" y1="273.41" y2="273.41" stroke="#f2f2f2" stroke-width="0.8"/>
<line x1="261" x2="343.9" y1="289.69" y2="289.69" stroke="#f2f2f2" stroke-width="0.8"/>
<line x1="261" x2="343.9" y1="305.96" y2="305.96" stroke="#f2f2f2" stroke-width="0.8"/>
<line x1="261" x2="343.9" y1="249" y2="249" stroke="#f6f6f6" stroke-width="0.8"/>
<line x1="261" x2="343.9" y1="265.27" y2="265.27" stroke="#f6f6f6" stroke-width="0.8"/>
<line x1="261" x2="343.9" y1="281.55" y2="281.55" stroke="#f6f6f6" stroke-width="0.8"/>
<line x1="261" x2="343.9" y1="297.83" y2="297.83" stroke="#f6f6f6" stroke-width="0.8"/>
<line x1="261" x2="343.9" y1="314.1" y2="314.1" stroke="#f6f6f6" stroke-width="0.8"/>
<line x1="283.61" x2="283.61" y1="233" y2="317.7" stroke="#f1f1f1" stroke-width="0.8"/>
<line x1="321.29" x2="321.29" y1="233" y2="317.7" stroke="#f1f1f1" stroke-width="0.8"/>
<line x1="259.7" x2="261" y1="249" y2="249" stroke="#999999" stroke-width="0.5"/>
<text transform="translate(260,251.8) scale(0.9,1)" text-anchor="end" font-size="7.8" class="tk">5000</text>
<line x1="259.7" x2="261" y1="265.27" y2="265.27" stroke="#999999" stroke-width="0.5"/>
<text transform="translate(260,268.07) scale(0.9,1)" text-anchor="end" font-size="7.8" class="tk">4500</text>
<line x1="259.7" x2="261" y1="281.55" y2="281.55" stroke="#999999" stroke-width="0.5"/>
<text transform="translate(260,284.35) scale(0.9,1)" text-anchor="end" font-size="7.8" class="tk">4000</text>
<line x1="259.7" x2="261" y1="297.83" y2="297.83" stroke="#999999" stroke-width="0.5"/>
<text transform="translate(260,300.63) scale(0.9,1)" text-anchor="end" font-size="7.8" class="tk">3500</text>
<line x1="259.7" x2="261" y1="314.1" y2="314.1" stroke="#999999" stroke-width="0.5"/>
<text transform="translate(260,316.9) scale(0.9,1)" text-anchor="end" font-size="7.8" class="tk">3000</text>
<line x1="283.61" x2="283.61" y1="317.7" y2="319.5" stroke="#999999" stroke-width="0.5"/>
<line x1="321.29" x2="321.29" y1="317.7" y2="319.5" stroke="#999999" stroke-width="0.5"/>
<circle cx="283.61" cy="292.8" r="2.4" fill="#0a24cc" stroke="#00106a" stroke-width="0.4"/>
<circle cx="281.01" cy="312.1" r="2.4" fill="#0a24cc" stroke="#00106a" stroke-width="0.4"/>
<circle cx="286.21" cy="312.1" r="2.4" fill="#0a24cc" stroke="#00106a" stroke-width="0.4"/>
<circle cx="321.29" cy="237.4" r="2.4" fill="#d21c00" stroke="#7a0e00" stroke-width="0.4"/>
<circle cx="321.29" cy="242.4" r="2.4" fill="#d21c00" stroke="#7a0e00" stroke-width="0.4"/>
<circle cx="321.29" cy="262.8" r="2.4" fill="#d21c00" stroke="#7a0e00" stroke-width="0.4"/>
<line x1="283.61" x2="283.61" y1="299.2" y2="312.1" stroke="#3a3a3a" stroke-width="0.5"/>
<line x1="273.91" x2="293.31" y1="299.2" y2="299.2" stroke="#3a3a3a" stroke-width="0.5"/>
<line x1="273.91" x2="293.31" y1="312.1" y2="312.1" stroke="#3a3a3a" stroke-width="0.5"/>
<line x1="273.91" x2="293.31" y1="305.5" y2="305.5" stroke="#1a1a1a" stroke-width="0.8"/>
<line x1="321.29" x2="321.29" y1="239.1" y2="255.3" stroke="#3a3a3a" stroke-width="0.5"/>
<line x1="311.59" x2="330.99" y1="239.1" y2="239.1" stroke="#3a3a3a" stroke-width="0.5"/>
<line x1="311.59" x2="330.99" y1="255.3" y2="255.3" stroke="#3a3a3a" stroke-width="0.5"/>
<line x1="311.59" x2="330.99" y1="247.4" y2="247.4" stroke="#1a1a1a" stroke-width="0.8"/>
<text x="302.45" y="229.3" text-anchor="middle" font-size="8.8" class="tt">cdc42l</text>
<text transform="translate(242.65,272) rotate(-90)" text-anchor="middle" font-size="8.4" class="tt">Normalized counts</text>
<text x="277.9" y="325.3" font-size="8.5" class="tt">wt</text>
<text x="290.8" y="325.3" font-size="8.5" font-style="italic" class="tt">pax3a<tspan font-size="4.8" dy="-2.5" class="sp">-/-</tspan><tspan dy="2.5">;pax3b</tspan><tspan font-size="4.8" dy="-2.5" class="sp">-/-</tspan></text>
<rect x="369" y="233" width="85.3" height="84.7" fill="#ebebeb"/>
<line x1="369" x2="454.3" y1="250.58" y2="250.58" stroke="#f2f2f2" stroke-width="0.8"/>
<line x1="369" x2="454.3" y1="270.55" y2="270.55" stroke="#f2f2f2" stroke-width="0.8"/>
<line x1="369" x2="454.3" y1="290.52" y2="290.52" stroke="#f2f2f2" stroke-width="0.8"/>
<line x1="369" x2="454.3" y1="310.48" y2="310.48" stroke="#f2f2f2" stroke-width="0.8"/>
<line x1="369" x2="454.3" y1="240.6" y2="240.6" stroke="#f6f6f6" stroke-width="0.8"/>
<line x1="369" x2="454.3" y1="260.57" y2="260.57" stroke="#f6f6f6" stroke-width="0.8"/>
<line x1="369" x2="454.3" y1="280.53" y2="280.53" stroke="#f6f6f6" stroke-width="0.8"/>
<line x1="369" x2="454.3" y1="300.5" y2="300.5" stroke="#f6f6f6" stroke-width="0.8"/>
<line x1="392.26" x2="392.26" y1="233" y2="317.7" stroke="#f1f1f1" stroke-width="0.8"/>
<line x1="431.04" x2="431.04" y1="233" y2="317.7" stroke="#f1f1f1" stroke-width="0.8"/>
<line x1="367.7" x2="369" y1="240.6" y2="240.6" stroke="#999999" stroke-width="0.5"/>
<text transform="translate(368,243.4) scale(0.9,1)" text-anchor="end" font-size="7.8" class="tk">100</text>
<line x1="367.7" x2="369" y1="260.57" y2="260.57" stroke="#999999" stroke-width="0.5"/>
<text transform="translate(368,263.37) scale(0.9,1)" text-anchor="end" font-size="7.8" class="tk">75</text>
<line x1="367.7" x2="369" y1="280.53" y2="280.53" stroke="#999999" stroke-width="0.5"/>
<text transform="translate(368,283.33) scale(0.9,1)" text-anchor="end" font-size="7.8" class="tk">50</text>
<line x1="367.7" x2="369" y1="300.5" y2="300.5" stroke="#999999" stroke-width="0.5"/>
<text transform="translate(368,303.3) scale(0.9,1)" text-anchor="end" font-size="7.8" class="tk">25</text>
<line x1="392.26" x2="392.26" y1="317.7" y2="319.5" stroke="#999999" stroke-width="0.5"/>
<line x1="431.04" x2="431.04" y1="317.7" y2="319.5" stroke="#999999" stroke-width="0.5"/>
<circle cx="392.26" cy="302.3" r="2.4" fill="#0a24cc" stroke="#00106a" stroke-width="0.4"/>
<circle cx="389.66" cy="312.1" r="2.4" fill="#0a24cc" stroke="#00106a" stroke-width="0.4"/>
<circle cx="394.86" cy="312.1" r="2.4" fill="#0a24cc" stroke="#00106a" stroke-width="0.4"/>
<circle cx="431.04" cy="237.6" r="2.4" fill="#d21c00" stroke="#7a0e00" stroke-width="0.4"/>
<circle cx="431.04" cy="261.3" r="2.4" fill="#d21c00" stroke="#7a0e00" stroke-width="0.4"/>
<circle cx="431.04" cy="296.8" r="2.4" fill="#d21c00" stroke="#7a0e00" stroke-width="0.4"/>
<line x1="392.26" x2="392.26" y1="305.3" y2="312.1" stroke="#3a3a3a" stroke-width="0.5"/>
<line x1="382.56" x2="401.96" y1="305.3" y2="305.3" stroke="#3a3a3a" stroke-width="0.5"/>
<line x1="382.56" x2="401.96" y1="312.1" y2="312.1" stroke="#3a3a3a" stroke-width="0.5"/>
<line x1="382.56" x2="401.96" y1="308.8" y2="308.8" stroke="#1a1a1a" stroke-width="0.8"/>
<line x1="431.04" x2="431.04" y1="248.3" y2="282.3" stroke="#3a3a3a" stroke-width="0.5"/>
<line x1="421.34" x2="440.74" y1="248.3" y2="248.3" stroke="#3a3a3a" stroke-width="0.5"/>
<line x1="421.34" x2="440.74" y1="282.3" y2="282.3" stroke="#3a3a3a" stroke-width="0.5"/>
<line x1="421.34" x2="440.74" y1="265.4" y2="265.4" stroke="#1a1a1a" stroke-width="0.8"/>
<text x="411.65" y="229.3" text-anchor="middle" font-size="8.8" class="tt">CR450833.1</text>
<text transform="translate(354.85,272) rotate(-90)" text-anchor="middle" font-size="8.4" class="tt">Normalized counts</text>
<text x="386.8" y="325.3" font-size="8.5" class="tt">wt</text>
<text x="401" y="325.3" font-size="8.5" font-style="italic" class="tt">pax3a<tspan font-size="4.8" dy="-2.5" class="sp">-/-</tspan><tspan dy="2.5">;pax3b</tspan><tspan font-size="4.8" dy="-2.5" class="sp">-/-</tspan></text>
<rect x="485.1" y="233" width="82.7" height="84.7" fill="#ebebeb"/>
<line x1="485.1" x2="567.8" y1="240.43" y2="240.43" stroke="#f2f2f2" stroke-width="0.8"/>
<line x1="485.1" x2="567.8" y1="261.97" y2="261.97" stroke="#f2f2f2" stroke-width="0.8"/>
<line x1="485.1" x2="567.8" y1="283.5" y2="283.5" stroke="#f2f2f2" stroke-width="0.8"/>
<line x1="485.1" x2="567.8" y1="305.03" y2="305.03" stroke="#f2f2f2" stroke-width="0.8"/>
<line x1="485.1" x2="567.8" y1="251.2" y2="251.2" stroke="#f6f6f6" stroke-width="0.8"/>
<line x1="485.1" x2="567.8" y1="272.73" y2="272.73" stroke="#f6f6f6" stroke-width="0.8"/>
<line x1="485.1" x2="567.8" y1="294.27" y2="294.27" stroke="#f6f6f6" stroke-width="0.8"/>
<line x1="485.1" x2="567.8" y1="315.8" y2="315.8" stroke="#f6f6f6" stroke-width="0.8"/>
<line x1="507.65" x2="507.65" y1="233" y2="317.7" stroke="#f1f1f1" stroke-width="0.8"/>
<line x1="545.25" x2="545.25" y1="233" y2="317.7" stroke="#f1f1f1" stroke-width="0.8"/>
<line x1="483.8" x2="485.1" y1="251.2" y2="251.2" stroke="#999999" stroke-width="0.5"/>
<text transform="translate(484.1,254) scale(0.9,1)" text-anchor="end" font-size="7.8" class="tk">1300</text>
<line x1="483.8" x2="485.1" y1="272.73" y2="272.73" stroke="#999999" stroke-width="0.5"/>
<text transform="translate(484.1,275.53) scale(0.9,1)" text-anchor="end" font-size="7.8" class="tk">1100</text>
<line x1="483.8" x2="485.1" y1="294.27" y2="294.27" stroke="#999999" stroke-width="0.5"/>
<text transform="translate(484.1,297.07) scale(0.9,1)" text-anchor="end" font-size="7.8" class="tk">900</text>
<line x1="483.8" x2="485.1" y1="315.8" y2="315.8" stroke="#999999" stroke-width="0.5"/>
<text transform="translate(484.1,318.6) scale(0.9,1)" text-anchor="end" font-size="7.8" class="tk">700</text>
<line x1="507.65" x2="507.65" y1="317.7" y2="319.5" stroke="#999999" stroke-width="0.5"/>
<line x1="545.25" x2="545.25" y1="317.7" y2="319.5" stroke="#999999" stroke-width="0.5"/>
<circle cx="507.65" cy="303.6" r="2.4" fill="#0a24cc" stroke="#00106a" stroke-width="0.4"/>
<circle cx="507.65" cy="305.3" r="2.4" fill="#0a24cc" stroke="#00106a" stroke-width="0.4"/>
<circle cx="507.65" cy="312.1" r="2.4" fill="#0a24cc" stroke="#00106a" stroke-width="0.4"/>
<circle cx="545.25" cy="237.4" r="2.4" fill="#d21c00" stroke="#7a0e00" stroke-width="0.4"/>
<circle cx="545.25" cy="248.3" r="2.4" fill="#d21c00" stroke="#7a0e00" stroke-width="0.4"/>
<circle cx="545.25" cy="251.8" r="2.4" fill="#d21c00" stroke="#7a0e00" stroke-width="0.4"/>
<line x1="507.65" x2="507.65" y1="304.9" y2="309.9" stroke="#3a3a3a" stroke-width="0.5"/>
<line x1="497.95" x2="517.35" y1="304.9" y2="304.9" stroke="#3a3a3a" stroke-width="0.5"/>
<line x1="497.95" x2="517.35" y1="309.9" y2="309.9" stroke="#3a3a3a" stroke-width="0.5"/>
<line x1="497.95" x2="517.35" y1="307.3" y2="307.3" stroke="#1a1a1a" stroke-width="0.8"/>
<line x1="545.25" x2="545.25" y1="241.7" y2="250.1" stroke="#3a3a3a" stroke-width="0.5"/>
<line x1="535.55" x2="554.95" y1="241.7" y2="241.7" stroke="#3a3a3a" stroke-width="0.5"/>
<line x1="535.55" x2="554.95" y1="250.1" y2="250.1" stroke="#3a3a3a" stroke-width="0.5"/>
<line x1="535.55" x2="554.95" y1="246.3" y2="246.3" stroke="#1a1a1a" stroke-width="0.8"/>
<text x="526.45" y="229.3" text-anchor="middle" font-size="8.8" class="tt">FQ976913.1</text>
<text transform="translate(465.15,272) rotate(-90)" text-anchor="middle" font-size="8.4" class="tt">Normalized counts</text>
<text x="501.8" y="325.3" font-size="8.5" class="tt">wt</text>
<text x="516" y="325.3" font-size="8.5" font-style="italic" class="tt">pax3a<tspan font-size="4.8" dy="-2.5" class="sp">-/-</tspan><tspan dy="2.5">;pax3b</tspan><tspan font-size="4.8" dy="-2.5" class="sp">-/-</tspan></text>
<rect x="595.6" y="233" width="84.4" height="84.7" fill="#ebebeb"/>
<line x1="595.6" x2="680" y1="244.72" y2="244.72" stroke="#f2f2f2" stroke-width="0.8"/>
<line x1="595.6" x2="680" y1="261.17" y2="261.17" stroke="#f2f2f2" stroke-width="0.8"/>
<line x1="595.6" x2="680" y1="277.62" y2="277.62" stroke="#f2f2f2" stroke-width="0.8"/>
<line x1="595.6" x2="680" y1="294.08" y2="294.08" stroke="#f2f2f2" stroke-width="0.8"/>
<line x1="595.6" x2="680" y1="310.53" y2="310.53" stroke="#f2f2f2" stroke-width="0.8"/>
<line x1="595.6" x2="680" y1="236.5" y2="236.5" stroke="#f6f6f6" stroke-width="0.8"/>
<line x1="595.6" x2="680" y1="252.95" y2="252.95" stroke="#f6f6f6" stroke-width="0.8"/>
<line x1="595.6" x2="680" y1="269.4" y2="269.4" stroke="#f6f6f6" stroke-width="0.8"/>
<line x1="595.6" x2="680" y1="285.85" y2="285.85" stroke="#f6f6f6" stroke-width="0.8"/>
<line x1="595.6" x2="680" y1="302.3" y2="302.3" stroke="#f6f6f6" stroke-width="0.8"/>
<line x1="618.62" x2="618.62" y1="233" y2="317.7" stroke="#f1f1f1" stroke-width="0.8"/>
<line x1="656.98" x2="656.98" y1="233" y2="317.7" stroke="#f1f1f1" stroke-width="0.8"/>
<line x1="594.3" x2="595.6" y1="236.5" y2="236.5" stroke="#999999" stroke-width="0.5"/>
<text transform="translate(594.6,239.3) scale(0.9,1)" text-anchor="end" font-size="7.8" class="tk">700</text>
<line x1="594.3" x2="595.6" y1="252.95" y2="252.95" stroke="#999999" stroke-width="0.5"/>
<text transform="translate(594.6,255.75) scale(0.9,1)" text-anchor="end" font-size="7.8" class="tk">650</text>
<line x1="594.3" x2="595.6" y1="269.4" y2="269.4" stroke="#999999" stroke-width="0.5"/>
<text transform="translate(594.6,272.2) scale(0.9,1)" text-anchor="end" font-size="7.8" class="tk">600</text>
<line x1="594.3" x2="595.6" y1="285.85" y2="285.85" stroke="#999999" stroke-width="0.5"/>
<text transform="translate(594.6,288.65) scale(0.9,1)" text-anchor="end" font-size="7.8" class="tk">550</text>
<line x1="594.3" x2="595.6" y1="302.3" y2="302.3" stroke="#999999" stroke-width="0.5"/>
<text transform="translate(594.6,305.1) scale(0.9,1)" text-anchor="end" font-size="7.8" class="tk">500</text>
<line x1="618.62" x2="618.62" y1="317.7" y2="319.5" stroke="#999999" stroke-width="0.5"/>
<line x1="656.98" x2="656.98" y1="317.7" y2="319.5" stroke="#999999" stroke-width="0.5"/>
<circle cx="618.62" cy="300.5" r="2.4" fill="#0a24cc" stroke="#00106a" stroke-width="0.4"/>
<circle cx="616.02" cy="312.1" r="2.4" fill="#0a24cc" stroke="#00106a" stroke-width="0.4"/>
<circle cx="621.22" cy="312.1" r="2.4" fill="#0a24cc" stroke="#00106a" stroke-width="0.4"/>
<circle cx="656.98" cy="237.4" r="2.4" fill="#d21c00" stroke="#7a0e00" stroke-width="0.4"/>
<circle cx="656.98" cy="245.7" r="2.4" fill="#d21c00" stroke="#7a0e00" stroke-width="0.4"/>
<circle cx="656.98" cy="260.6" r="2.4" fill="#d21c00" stroke="#7a0e00" stroke-width="0.4"/>
<line x1="618.62" x2="618.62" y1="304.2" y2="312.1" stroke="#3a3a3a" stroke-width="0.5"/>
<line x1="608.92" x2="628.32" y1="304.2" y2="304.2" stroke="#3a3a3a" stroke-width="0.5"/>
<line x1="608.92" x2="628.32" y1="312.1" y2="312.1" stroke="#3a3a3a" stroke-width="0.5"/>
<line x1="608.92" x2="628.32" y1="308.2" y2="308.2" stroke="#1a1a1a" stroke-width="0.8"/>
<line x1="656.98" x2="656.98" y1="241.3" y2="254.9" stroke="#3a3a3a" stroke-width="0.5"/>
<line x1="647.28" x2="666.68" y1="241.3" y2="241.3" stroke="#3a3a3a" stroke-width="0.5"/>
<line x1="647.28" x2="666.68" y1="254.9" y2="254.9" stroke="#3a3a3a" stroke-width="0.5"/>
<line x1="647.28" x2="666.68" y1="248.3" y2="248.3" stroke="#1a1a1a" stroke-width="0.8"/>
<text x="637.8" y="229.3" text-anchor="middle" font-size="8.8" class="tt">mapk12b</text>
<text transform="translate(578.95,272) rotate(-90)" text-anchor="middle" font-size="8.4" class="tt">Normalized counts</text>
<text x="611.8" y="325.3" font-size="8.5" class="tt">wt</text>
<text x="626" y="325.3" font-size="8.5" font-style="italic" class="tt">pax3a<tspan font-size="4.8" dy="-2.5" class="sp">-/-</tspan><tspan dy="2.5">;pax3b</tspan><tspan font-size="4.8" dy="-2.5" class="sp">-/-</tspan></text>
<rect x="35" y="342.3" width="82.3" height="85.3" fill="#ebebeb"/>
<line x1="35" x2="117.3" y1="352.24" y2="352.24" stroke="#f2f2f2" stroke-width="0.8"/>
<line x1="35" x2="117.3" y1="369.51" y2="369.51" stroke="#f2f2f2" stroke-width="0.8"/>
<line x1="35" x2="117.3" y1="386.79" y2="386.79" stroke="#f2f2f2" stroke-width="0.8"/>
<line x1="35" x2="117.3" y1="404.06" y2="404.06" stroke="#f2f2f2" stroke-width="0.8"/>
<line x1="35" x2="117.3" y1="421.34" y2="421.34" stroke="#f2f2f2" stroke-width="0.8"/>
<line x1="35" x2="117.3" y1="343.6" y2="343.6" stroke="#f6f6f6" stroke-width="0.8"/>
<line x1="35" x2="117.3" y1="360.88" y2="360.88" stroke="#f6f6f6" stroke-width="0.8"/>
<line x1="35" x2="117.3" y1="378.15" y2="378.15" stroke="#f6f6f6" stroke-width="0.8"/>
<line x1="35" x2="117.3" y1="395.43" y2="395.43" stroke="#f6f6f6" stroke-width="0.8"/>
<line x1="35" x2="117.3" y1="412.7" y2="412.7" stroke="#f6f6f6" stroke-width="0.8"/>
<line x1="57.45" x2="57.45" y1="342.3" y2="427.6" stroke="#f1f1f1" stroke-width="0.8"/>
<line x1="94.85" x2="94.85" y1="342.3" y2="427.6" stroke="#f1f1f1" stroke-width="0.8"/>
<line x1="33.7" x2="35" y1="343.6" y2="343.6" stroke="#999999" stroke-width="0.5"/>
<text transform="translate(34,346.4) scale(0.9,1)" text-anchor="end" font-size="7.8" class="tk">7000</text>
<line x1="33.7" x2="35" y1="360.88" y2="360.88" stroke="#999999" stroke-width="0.5"/>
<text transform="translate(34,363.68) scale(0.9,1)" text-anchor="end" font-size="7.8" class="tk">6500</text>
<line x1="33.7" x2="35" y1="378.15" y2="378.15" stroke="#999999" stroke-width="0.5"/>
<text transform="translate(34,380.95) scale(0.9,1)" text-anchor="end" font-size="7.8" class="tk">6000</text>
<line x1="33.7" x2="35" y1="395.43" y2="395.43" stroke="#999999" stroke-width="0.5"/>
<text transform="translate(34,398.23) scale(0.9,1)" text-anchor="end" font-size="7.8" class="tk">5500</text>
<line x1="33.7" x2="35" y1="412.7" y2="412.7" stroke="#999999" stroke-width="0.5"/>
<text transform="translate(34,415.5) scale(0.9,1)" text-anchor="end" font-size="7.8" class="tk">5000</text>
<line x1="57.45" x2="57.45" y1="427.6" y2="429.4" stroke="#999999" stroke-width="0.5"/>
<line x1="94.85" x2="94.85" y1="427.6" y2="429.4" stroke="#999999" stroke-width="0.5"/>
<circle cx="57.45" cy="411.2" r="2.4" fill="#0a24cc" stroke="#00106a" stroke-width="0.4"/>
<circle cx="57.45" cy="418.8" r="2.4" fill="#0a24cc" stroke="#00106a" stroke-width="0.4"/>
<circle cx="57.45" cy="422.1" r="2.4" fill="#0a24cc" stroke="#00106a" stroke-width="0.4"/>
<circle cx="94.85" cy="347.4" r="2.4" fill="#d21c00" stroke="#7a0e00" stroke-width="0.4"/>
<circle cx="94.85" cy="354.6" r="2.4" fill="#d21c00" stroke="#7a0e00" stroke-width="0.4"/>
<circle cx="94.85" cy="388.4" r="2.4" fill="#d21c00" stroke="#7a0e00" stroke-width="0.4"/>
<line x1="57.45" x2="57.45" y1="414.4" y2="419.9" stroke="#3a3a3a" stroke-width="0.5"/>
<line x1="47.75" x2="67.15" y1="414.4" y2="414.4" stroke="#3a3a3a" stroke-width="0.5"/>
<line x1="47.75" x2="67.15" y1="419.9" y2="419.9" stroke="#3a3a3a" stroke-width="0.5"/>
<line x1="47.75" x2="67.15" y1="417.3" y2="417.3" stroke="#1a1a1a" stroke-width="0.8"/>
<line x1="94.85" x2="94.85" y1="350.9" y2="376.1" stroke="#3a3a3a" stroke-width="0.5"/>
<line x1="85.15" x2="104.55" y1="350.9" y2="350.9" stroke="#3a3a3a" stroke-width="0.5"/>
<line x1="85.15" x2="104.55" y1="376.1" y2="376.1" stroke="#3a3a3a" stroke-width="0.5"/>
<line x1="85.15" x2="104.55" y1="363.4" y2="363.4" stroke="#1a1a1a" stroke-width="0.8"/>
<text x="76.15" y="339.8" text-anchor="middle" font-size="8.8" class="tt">pak2a</text>
<text transform="translate(15.95,383.6) rotate(-90)" text-anchor="middle" font-size="8.4" class="tt">Normalized counts</text>
<text x="50.8" y="435.2" font-size="8.5" class="tt">wt</text>
<text x="64.8" y="435.2" font-size="8.5" font-style="italic" class="tt">pax3a<tspan font-size="4.8" dy="-2.5" class="sp">-/-</tspan><tspan dy="2.5">;pax3b</tspan><tspan font-size="4.8" dy="-2.5" class="sp">-/-</tspan></text>
<rect x="146.2" y="342.3" width="85.5" height="85.3" fill="#ebebeb"/>
<line x1="146.2" x2="231.7" y1="350.25" y2="350.25" stroke="#f2f2f2" stroke-width="0.8"/>
<line x1="146.2" x2="231.7" y1="378.75" y2="378.75" stroke="#f2f2f2" stroke-width="0.8"/>
<line x1="146.2" x2="231.7" y1="407.25" y2="407.25" stroke="#f2f2f2" stroke-width="0.8"/>
<line x1="146.2" x2="231.7" y1="364.5" y2="364.5" stroke="#f6f6f6" stroke-width="0.8"/>
<line x1="146.2" x2="231.7" y1="393" y2="393" stroke="#f6f6f6" stroke-width="0.8"/>
<line x1="146.2" x2="231.7" y1="421.5" y2="421.5" stroke="#f6f6f6" stroke-width="0.8"/>
<line x1="169.52" x2="169.52" y1="342.3" y2="427.6" stroke="#f1f1f1" stroke-width="0.8"/>
<line x1="208.38" x2="208.38" y1="342.3" y2="427.6" stroke="#f1f1f1" stroke-width="0.8"/>
<line x1="144.9" x2="146.2" y1="364.5" y2="364.5" stroke="#999999" stroke-width="0.5"/>
<text transform="translate(145.2,367.3) scale(0.9,1)" text-anchor="end" font-size="7.8" class="tk">500</text>
<line x1="144.9" x2="146.2" y1="393" y2="393" stroke="#999999" stroke-width="0.5"/>
<text transform="translate(145.2,395.8) scale(0.9,1)" text-anchor="end" font-size="7.8" class="tk">400</text>
<line x1="144.9" x2="146.2" y1="421.5" y2="421.5" stroke="#999999" stroke-width="0.5"/>
<text transform="translate(145.2,424.3) scale(0.9,1)" text-anchor="end" font-size="7.8" class="tk">300</text>
<line x1="169.52" x2="169.52" y1="427.6" y2="429.4" stroke="#999999" stroke-width="0.5"/>
<line x1="208.38" x2="208.38" y1="427.6" y2="429.4" stroke="#999999" stroke-width="0.5"/>
<circle cx="169.52" cy="407.9" r="2.4" fill="#0a24cc" stroke="#00106a" stroke-width="0.4"/>
<circle cx="169.52" cy="411.2" r="2.4" fill="#0a24cc" stroke="#00106a" stroke-width="0.4"/>
<circle cx="169.52" cy="421.9" r="2.4" fill="#0a24cc" stroke="#00106a" stroke-width="0.4"/>
<circle cx="208.38" cy="347.1" r="2.4" fill="#d21c00" stroke="#7a0e00" stroke-width="0.4"/>
<circle cx="208.38" cy="383.1" r="2.4" fill="#d21c00" stroke="#7a0e00" stroke-width="0.4"/>
<circle cx="208.38" cy="387.3" r="2.4" fill="#d21c00" stroke="#7a0e00" stroke-width="0.4"/>
<line x1="169.52" x2="169.52" y1="409.2" y2="418.2" stroke="#3a3a3a" stroke-width="0.5"/>
<line x1="159.82" x2="179.22" y1="409.2" y2="409.2" stroke="#3a3a3a" stroke-width="0.5"/>
<line x1="159.82" x2="179.22" y1="418.2" y2="418.2" stroke="#3a3a3a" stroke-width="0.5"/>
<line x1="159.82" x2="179.22" y1="413.6" y2="413.6" stroke="#1a1a1a" stroke-width="0.8"/>
<line x1="208.38" x2="208.38" y1="359.4" y2="385.1" stroke="#3a3a3a" stroke-width="0.5"/>
<line x1="198.68" x2="218.08" y1="359.4" y2="359.4" stroke="#3a3a3a" stroke-width="0.5"/>
<line x1="198.68" x2="218.08" y1="385.1" y2="385.1" stroke="#3a3a3a" stroke-width="0.5"/>
<line x1="198.68" x2="218.08" y1="372.1" y2="372.1" stroke="#1a1a1a" stroke-width="0.8"/>
<text x="188.95" y="339.8" text-anchor="middle" font-size="8.8" class="tt">pdpk1a</text>
<text transform="translate(130.05,383.6) rotate(-90)" text-anchor="middle" font-size="8.4" class="tt">Normalized counts</text>
<text x="164.1" y="435.2" font-size="8.5" class="tt">wt</text>
<text x="178.4" y="435.2" font-size="8.5" font-style="italic" class="tt">pax3a<tspan font-size="4.8" dy="-2.5" class="sp">-/-</tspan><tspan dy="2.5">;pax3b</tspan><tspan font-size="4.8" dy="-2.5" class="sp">-/-</tspan></text>
<rect x="255.7" y="342.3" width="87.9" height="85.3" fill="#ebebeb"/>
<line x1="255.7" x2="343.6" y1="346.02" y2="346.02" stroke="#f2f2f2" stroke-width="0.8"/>
<line x1="255.7" x2="343.6" y1="367.58" y2="367.58" stroke="#f2f2f2" stroke-width="0.8"/>
<line x1="255.7" x2="343.6" y1="389.15" y2="389.15" stroke="#f2f2f2" stroke-width="0.8"/>
<line x1="255.7" x2="343.6" y1="410.72" y2="410.72" stroke="#f2f2f2" stroke-width="0.8"/>
<line x1="255.7" x2="343.6" y1="356.8" y2="356.8" stroke="#f6f6f6" stroke-width="0.8"/>
<line x1="255.7" x2="343.6" y1="378.37" y2="378.37" stroke="#f6f6f6" stroke-width="0.8"/>
<line x1="255.7" x2="343.6" y1="399.93" y2="399.93" stroke="#f6f6f6" stroke-width="0.8"/>
<line x1="255.7" x2="343.6" y1="421.5" y2="421.5" stroke="#f6f6f6" stroke-width="0.8"/>
<line x1="279.67" x2="279.67" y1="342.3" y2="427.6" stroke="#f1f1f1" stroke-width="0.8"/>
<line x1="319.63" x2="319.63" y1="342.3" y2="427.6" stroke="#f1f1f1" stroke-width="0.8"/>
<line x1="254.4" x2="255.7" y1="356.8" y2="356.8" stroke="#999999" stroke-width="0.5"/>
<text transform="translate(254.7,359.6) scale(0.9,1)" text-anchor="end" font-size="7.8" class="tk">15</text>
<line x1="254.4" x2="255.7" y1="378.37" y2="378.37" stroke="#999999" stroke-width="0.5"/>
<text transform="translate(254.7,381.17) scale(0.9,1)" text-anchor="end" font-size="7.8" class="tk">10</text>
<line x1="254.4" x2="255.7" y1="399.93" y2="399.93" stroke="#999999" stroke-width="0.5"/>
<text transform="translate(254.7,402.73) scale(0.9,1)" text-anchor="end" font-size="7.8" class="tk">5</text>
<line x1="254.4" x2="255.7" y1="421.5" y2="421.5" stroke="#999999" stroke-width="0.5"/>
<text transform="translate(254.7,424.3) scale(0.9,1)" text-anchor="end" font-size="7.8" class="tk">0</text>
<line x1="279.67" x2="279.67" y1="427.6" y2="429.4" stroke="#999999" stroke-width="0.5"/>
<line x1="319.63" x2="319.63" y1="427.6" y2="429.4" stroke="#999999" stroke-width="0.5"/>
<circle cx="279.67" cy="410.5" r="2.4" fill="#0a24cc" stroke="#00106a" stroke-width="0.4"/>
<circle cx="279.67" cy="416" r="2.4" fill="#0a24cc" stroke="#00106a" stroke-width="0.4"/>
<circle cx="279.67" cy="421.7" r="2.4" fill="#0a24cc" stroke="#00106a" stroke-width="0.4"/>
<circle cx="319.63" cy="347.1" r="2.4" fill="#d21c00" stroke="#7a0e00" stroke-width="0.4"/>
<circle cx="317.13" cy="377.6" r="2.4" fill="#d21c00" stroke="#7a0e00" stroke-width="0.4"/>
<circle cx="322.13" cy="377.6" r="2.4" fill="#d21c00" stroke="#7a0e00" stroke-width="0.4"/>
<line x1="279.67" x2="279.67" y1="413.1" y2="419.3" stroke="#3a3a3a" stroke-width="0.5"/>
<line x1="269.97" x2="289.37" y1="413.1" y2="413.1" stroke="#3a3a3a" stroke-width="0.5"/>
<line x1="269.97" x2="289.37" y1="419.3" y2="419.3" stroke="#3a3a3a" stroke-width="0.5"/>
<line x1="269.97" x2="289.37" y1="416.2" y2="416.2" stroke="#1a1a1a" stroke-width="0.8"/>
<line x1="319.63" x2="319.63" y1="357.2" y2="377.6" stroke="#3a3a3a" stroke-width="0.5"/>
<line x1="309.93" x2="329.33" y1="357.2" y2="357.2" stroke="#3a3a3a" stroke-width="0.5"/>
<line x1="309.93" x2="329.33" y1="377.6" y2="377.6" stroke="#3a3a3a" stroke-width="0.5"/>
<line x1="309.93" x2="329.33" y1="367.3" y2="367.3" stroke="#1a1a1a" stroke-width="0.8"/>
<text x="299.65" y="339.8" text-anchor="middle" font-size="8.8" class="tt">rac1l</text>
<text transform="translate(242.65,383.6) rotate(-90)" text-anchor="middle" font-size="8.4" class="tt">Normalized counts</text>
<text x="274.1" y="435.2" font-size="8.5" class="tt">wt</text>
<text x="290.5" y="435.2" font-size="8.5" font-style="italic" class="tt">pax3a<tspan font-size="4.8" dy="-2.5" class="sp">-/-</tspan><tspan dy="2.5">;pax3b</tspan><tspan font-size="4.8" dy="-2.5" class="sp">-/-</tspan></text>
<rect x="371.8" y="342.3" width="83.2" height="85.3" fill="#ebebeb"/>
<line x1="371.8" x2="455" y1="353.59" y2="353.59" stroke="#f2f2f2" stroke-width="0.8"/>
<line x1="371.8" x2="455" y1="370.36" y2="370.36" stroke="#f2f2f2" stroke-width="0.8"/>
<line x1="371.8" x2="455" y1="387.14" y2="387.14" stroke="#f2f2f2" stroke-width="0.8"/>
<line x1="371.8" x2="455" y1="403.91" y2="403.91" stroke="#f2f2f2" stroke-width="0.8"/>
<line x1="371.8" x2="455" y1="420.69" y2="420.69" stroke="#f2f2f2" stroke-width="0.8"/>
<line x1="371.8" x2="455" y1="345.2" y2="345.2" stroke="#f6f6f6" stroke-width="0.8"/>
<line x1="371.8" x2="455" y1="361.98" y2="361.98" stroke="#f6f6f6" stroke-width="0.8"/>
<line x1="371.8" x2="455" y1="378.75" y2="378.75" stroke="#f6f6f6" stroke-width="0.8"/>
<line x1="371.8" x2="455" y1="395.52" y2="395.52" stroke="#f6f6f6" stroke-width="0.8"/>
<line x1="371.8" x2="455" y1="412.3" y2="412.3" stroke="#f6f6f6" stroke-width="0.8"/>
<line x1="394.49" x2="394.49" y1="342.3" y2="427.6" stroke="#f1f1f1" stroke-width="0.8"/>
<line x1="432.31" x2="432.31" y1="342.3" y2="427.6" stroke="#f1f1f1" stroke-width="0.8"/>
<line x1="370.5" x2="371.8" y1="345.2" y2="345.2" stroke="#999999" stroke-width="0.5"/>
<text transform="translate(370.8,348) scale(0.9,1)" text-anchor="end" font-size="7.8" class="tk">2400</text>
<line x1="370.5" x2="371.8" y1="361.98" y2="361.98" stroke="#999999" stroke-width="0.5"/>
<text transform="translate(370.8,364.78) scale(0.9,1)" text-anchor="end" font-size="7.8" class="tk">2200</text>
<line x1="370.5" x2="371.8" y1="378.75" y2="378.75" stroke="#999999" stroke-width="0.5"/>
<text transform="translate(370.8,381.55) scale(0.9,1)" text-anchor="end" font-size="7.8" class="tk">2000</text>
<line x1="370.5" x2="371.8" y1="395.52" y2="395.52" stroke="#999999" stroke-width="0.5"/>
<text transform="translate(370.8,398.32) scale(0.9,1)" text-anchor="end" font-size="7.8" class="tk">1800</text>
<line x1="370.5" x2="371.8" y1="412.3" y2="412.3" stroke="#999999" stroke-width="0.5"/>
<text transform="translate(370.8,415.1) scale(0.9,1)" text-anchor="end" font-size="7.8" class="tk">1600</text>
<line x1="394.49" x2="394.49" y1="427.6" y2="429.4" stroke="#999999" stroke-width="0.5"/>
<line x1="432.31" x2="432.31" y1="427.6" y2="429.4" stroke="#999999" stroke-width="0.5"/>
<circle cx="394.49" cy="395.2" r="2.4" fill="#0a24cc" stroke="#00106a" stroke-width="0.4"/>
<circle cx="394.49" cy="413.8" r="2.4" fill="#0a24cc" stroke="#00106a" stroke-width="0.4"/>
<circle cx="394.49" cy="421.9" r="2.4" fill="#0a24cc" stroke="#00106a" stroke-width="0.4"/>
<circle cx="429.71" cy="347.1" r="2.4" fill="#d21c00" stroke="#7a0e00" stroke-width="0.4"/>
<circle cx="434.91" cy="347.1" r="2.4" fill="#d21c00" stroke="#7a0e00" stroke-width="0.4"/>
<circle cx="432.31" cy="366.2" r="2.4" fill="#d21c00" stroke="#7a0e00" stroke-width="0.4"/>
<line x1="394.49" x2="394.49" y1="402.2" y2="418.2" stroke="#3a3a3a" stroke-width="0.5"/>
<line x1="384.79" x2="404.19" y1="402.2" y2="402.2" stroke="#3a3a3a" stroke-width="0.5"/>
<line x1="384.79" x2="404.19" y1="418.2" y2="418.2" stroke="#3a3a3a" stroke-width="0.5"/>
<line x1="384.79" x2="404.19" y1="410.1" y2="410.1" stroke="#1a1a1a" stroke-width="0.8"/>
<line x1="432.31" x2="432.31" y1="347.1" y2="359.4" stroke="#3a3a3a" stroke-width="0.5"/>
<line x1="422.61" x2="442.01" y1="347.1" y2="347.1" stroke="#3a3a3a" stroke-width="0.5"/>
<line x1="422.61" x2="442.01" y1="359.4" y2="359.4" stroke="#3a3a3a" stroke-width="0.5"/>
<line x1="422.61" x2="442.01" y1="353.1" y2="353.1" stroke="#1a1a1a" stroke-width="0.8"/>
<text x="413.4" y="339.8" text-anchor="middle" font-size="8.8" class="tt">rac2</text>
<text transform="translate(354.85,383.6) rotate(-90)" text-anchor="middle" font-size="8.4" class="tt">Normalized counts</text>
<text x="388.8" y="435.2" font-size="8.5" font-style="italic" class="tt">wt</text>
<text x="402.8" y="435.2" font-size="8.5" font-style="italic" class="tt">pax3a<tspan font-size="4.8" dy="-2.5" class="sp">-/-</tspan><tspan dy="2.5">;pax3b</tspan><tspan font-size="4.8" dy="-2.5" class="sp">-/-</tspan></text>
<rect x="482.9" y="342.3" width="85.4" height="85.3" fill="#ebebeb"/>
<line x1="482.9" x2="568.3" y1="351.85" y2="351.85" stroke="#f2f2f2" stroke-width="0.8"/>
<line x1="482.9" x2="568.3" y1="373.55" y2="373.55" stroke="#f2f2f2" stroke-width="0.8"/>
<line x1="482.9" x2="568.3" y1="395.25" y2="395.25" stroke="#f2f2f2" stroke-width="0.8"/>
<line x1="482.9" x2="568.3" y1="416.95" y2="416.95" stroke="#f2f2f2" stroke-width="0.8"/>
<line x1="482.9" x2="568.3" y1="362.7" y2="362.7" stroke="#f6f6f6" stroke-width="0.8"/>
<line x1="482.9" x2="568.3" y1="384.4" y2="384.4" stroke="#f6f6f6" stroke-width="0.8"/>
<line x1="482.9" x2="568.3" y1="406.1" y2="406.1" stroke="#f6f6f6" stroke-width="0.8"/>
<line x1="506.19" x2="506.19" y1="342.3" y2="427.6" stroke="#f1f1f1" stroke-width="0.8"/>
<line x1="545.01" x2="545.01" y1="342.3" y2="427.6" stroke="#f1f1f1" stroke-width="0.8"/>
<line x1="481.6" x2="482.9" y1="362.7" y2="362.7" stroke="#999999" stroke-width="0.5"/>
<text transform="translate(481.9,365.5) scale(0.9,1)" text-anchor="end" font-size="7.8" class="tk">360</text>
<line x1="481.6" x2="482.9" y1="384.4" y2="384.4" stroke="#999999" stroke-width="0.5"/>
<text transform="translate(481.9,387.2) scale(0.9,1)" text-anchor="end" font-size="7.8" class="tk">320</text>
<line x1="481.6" x2="482.9" y1="406.1" y2="406.1" stroke="#999999" stroke-width="0.5"/>
<text transform="translate(481.9,408.9) scale(0.9,1)" text-anchor="end" font-size="7.8" class="tk">280</text>
<line x1="506.19" x2="506.19" y1="427.6" y2="429.4" stroke="#999999" stroke-width="0.5"/>
<line x1="545.01" x2="545.01" y1="427.6" y2="429.4" stroke="#999999" stroke-width="0.5"/>
<circle cx="506.19" cy="411.2" r="2.4" fill="#0a24cc" stroke="#00106a" stroke-width="0.4"/>
<circle cx="506.19" cy="414.2" r="2.4" fill="#0a24cc" stroke="#00106a" stroke-width="0.4"/>
<circle cx="506.19" cy="421.7" r="2.4" fill="#0a24cc" stroke="#00106a" stroke-width="0.4"/>
<circle cx="545.01" cy="347.1" r="2.4" fill="#d21c00" stroke="#7a0e00" stroke-width="0.4"/>
<circle cx="545.01" cy="359.6" r="2.4" fill="#d21c00" stroke="#7a0e00" stroke-width="0.4"/>
<circle cx="545.01" cy="371.9" r="2.4" fill="#d21c00" stroke="#7a0e00" stroke-width="0.4"/>
<line x1="506.19" x2="506.19" y1="412.3" y2="419.3" stroke="#3a3a3a" stroke-width="0.5"/>
<line x1="496.49" x2="515.89" y1="412.3" y2="412.3" stroke="#3a3a3a" stroke-width="0.5"/>
<line x1="496.49" x2="515.89" y1="419.3" y2="419.3" stroke="#3a3a3a" stroke-width="0.5"/>
<line x1="496.49" x2="515.89" y1="415.8" y2="415.8" stroke="#1a1a1a" stroke-width="0.8"/>
<line x1="545.01" x2="545.01" y1="352.4" y2="366.7" stroke="#3a3a3a" stroke-width="0.5"/>
<line x1="535.31" x2="554.71" y1="352.4" y2="352.4" stroke="#3a3a3a" stroke-width="0.5"/>
<line x1="535.31" x2="554.71" y1="366.7" y2="366.7" stroke="#3a3a3a" stroke-width="0.5"/>
<line x1="535.31" x2="554.71" y1="359.6" y2="359.6" stroke="#1a1a1a" stroke-width="0.8"/>
<text x="525.6" y="339.8" text-anchor="middle" font-size="8.8" class="tt">raf1a</text>
<text transform="translate(465.15,383.6) rotate(-90)" text-anchor="middle" font-size="8.4" class="tt">Normalized counts</text>
<text x="500.3" y="435.2" font-size="8.5" class="tt">wt</text>
<text x="514.9" y="435.2" font-size="8.5" font-style="italic" class="tt">pax3a<tspan font-size="4.8" dy="-2.5" class="sp">-/-</tspan><tspan dy="2.5">;pax3b</tspan><tspan font-size="4.8" dy="-2.5" class="sp">-/-</tspan></text>
<rect x="597.7" y="342.3" width="83.3" height="85.3" fill="#ebebeb"/>
<line x1="597.7" x2="681" y1="357.24" y2="357.24" stroke="#f2f2f2" stroke-width="0.8"/>
<line x1="597.7" x2="681" y1="375.71" y2="375.71" stroke="#f2f2f2" stroke-width="0.8"/>
<line x1="597.7" x2="681" y1="394.19" y2="394.19" stroke="#f2f2f2" stroke-width="0.8"/>
<line x1="597.7" x2="681" y1="412.66" y2="412.66" stroke="#f2f2f2" stroke-width="0.8"/>
<line x1="597.7" x2="681" y1="348" y2="348" stroke="#f6f6f6" stroke-width="0.8"/>
<line x1="597.7" x2="681" y1="366.48" y2="366.48" stroke="#f6f6f6" stroke-width="0.8"/>
<line x1="597.7" x2="681" y1="384.95" y2="384.95" stroke="#f6f6f6" stroke-width="0.8"/>
<line x1="597.7" x2="681" y1="403.42" y2="403.42" stroke="#f6f6f6" stroke-width="0.8"/>
<line x1="597.7" x2="681" y1="421.9" y2="421.9" stroke="#f6f6f6" stroke-width="0.8"/>
<line x1="620.42" x2="620.42" y1="342.3" y2="427.6" stroke="#f1f1f1" stroke-width="0.8"/>
<line x1="658.28" x2="658.28" y1="342.3" y2="427.6" stroke="#f1f1f1" stroke-width="0.8"/>
<line x1="596.4" x2="597.7" y1="348" y2="348" stroke="#999999" stroke-width="0.5"/>
<text transform="translate(596.7,350.8) scale(0.9,1)" text-anchor="end" font-size="7.8" class="tk">1100</text>
<line x1="596.4" x2="597.7" y1="366.48" y2="366.48" stroke="#999999" stroke-width="0.5"/>
<text transform="translate(596.7,369.28) scale(0.9,1)" text-anchor="end" font-size="7.8" class="tk">1000</text>
<line x1="596.4" x2="597.7" y1="384.95" y2="384.95" stroke="#999999" stroke-width="0.5"/>
<text transform="translate(596.7,387.75) scale(0.9,1)" text-anchor="end" font-size="7.8" class="tk">900</text>
<line x1="596.4" x2="597.7" y1="403.42" y2="403.42" stroke="#999999" stroke-width="0.5"/>
<text transform="translate(596.7,406.22) scale(0.9,1)" text-anchor="end" font-size="7.8" class="tk">800</text>
<line x1="596.4" x2="597.7" y1="421.9" y2="421.9" stroke="#999999" stroke-width="0.5"/>
<text transform="translate(596.7,424.7) scale(0.9,1)" text-anchor="end" font-size="7.8" class="tk">700</text>
<line x1="620.42" x2="620.42" y1="427.6" y2="429.4" stroke="#999999" stroke-width="0.5"/>
<line x1="658.28" x2="658.28" y1="427.6" y2="429.4" stroke="#999999" stroke-width="0.5"/>
<circle cx="620.42" cy="399.1" r="2.4" fill="#0a24cc" stroke="#00106a" stroke-width="0.4"/>
<circle cx="620.42" cy="418.2" r="2.4" fill="#0a24cc" stroke="#00106a" stroke-width="0.4"/>
<circle cx="620.42" cy="421.5" r="2.4" fill="#0a24cc" stroke="#00106a" stroke-width="0.4"/>
<circle cx="658.28" cy="347.1" r="2.4" fill="#d21c00" stroke="#7a0e00" stroke-width="0.4"/>
<circle cx="658.28" cy="368.8" r="2.4" fill="#d21c00" stroke="#7a0e00" stroke-width="0.4"/>
<circle cx="658.28" cy="373.2" r="2.4" fill="#d21c00" stroke="#7a0e00" stroke-width="0.4"/>
<line x1="620.42" x2="620.42" y1="405.7" y2="419.9" stroke="#3a3a3a" stroke-width="0.5"/>
<line x1="610.72" x2="630.12" y1="405.7" y2="405.7" stroke="#3a3a3a" stroke-width="0.5"/>
<line x1="610.72" x2="630.12" y1="419.9" y2="419.9" stroke="#3a3a3a" stroke-width="0.5"/>
<line x1="610.72" x2="630.12" y1="412.9" y2="412.9" stroke="#1a1a1a" stroke-width="0.8"/>
<line x1="658.28" x2="658.28" y1="355" y2="371.3" stroke="#3a3a3a" stroke-width="0.5"/>
<line x1="648.58" x2="667.98" y1="355" y2="355" stroke="#3a3a3a" stroke-width="0.5"/>
<line x1="648.58" x2="667.98" y1="371.3" y2="371.3" stroke="#3a3a3a" stroke-width="0.5"/>
<line x1="648.58" x2="667.98" y1="363.4" y2="363.4" stroke="#1a1a1a" stroke-width="0.8"/>
<text x="639.35" y="339.8" text-anchor="middle" font-size="8.8" class="tt">ralbb</text>
<text transform="translate(578.95,383.6) rotate(-90)" text-anchor="middle" font-size="8.4" class="tt">Normalized counts</text>
<text x="613.8" y="435.2" font-size="8.5" class="tt">wt</text>
<text x="626" y="435.2" font-size="8.5" font-style="italic" class="tt">pax3a<tspan font-size="4.8" dy="-2.5" class="sp">-/-</tspan><tspan dy="2.5">;pax3b</tspan><tspan font-size="4.8" dy="-2.5" class="sp">-/-</tspan></text>
<rect x="35.2" y="452.4" width="82.8" height="84.6" fill="#ebebeb"/>
<line x1="35.2" x2="118" y1="465.57" y2="465.57" stroke="#f2f2f2" stroke-width="0.8"/>
<line x1="35.2" x2="118" y1="484.92" y2="484.92" stroke="#f2f2f2" stroke-width="0.8"/>
<line x1="35.2" x2="118" y1="504.27" y2="504.27" stroke="#f2f2f2" stroke-width="0.8"/>
<line x1="35.2" x2="118" y1="523.62" y2="523.62" stroke="#f2f2f2" stroke-width="0.8"/>
<line x1="35.2" x2="118" y1="455.9" y2="455.9" stroke="#f6f6f6" stroke-width="0.8"/>
<line x1="35.2" x2="118" y1="475.25" y2="475.25" stroke="#f6f6f6" stroke-width="0.8"/>
<line x1="35.2" x2="118" y1="494.6" y2="494.6" stroke="#f6f6f6" stroke-width="0.8"/>
<line x1="35.2" x2="118" y1="513.95" y2="513.95" stroke="#f6f6f6" stroke-width="0.8"/>
<line x1="35.2" x2="118" y1="533.3" y2="533.3" stroke="#f6f6f6" stroke-width="0.8"/>
<line x1="57.78" x2="57.78" y1="452.4" y2="537" stroke="#f1f1f1" stroke-width="0.8"/>
<line x1="95.42" x2="95.42" y1="452.4" y2="537" stroke="#f1f1f1" stroke-width="0.8"/>
<line x1="33.9" x2="35.2" y1="455.9" y2="455.9" stroke="#999999" stroke-width="0.5"/>
<text transform="translate(34.2,458.7) scale(0.9,1)" text-anchor="end" font-size="7.8" class="tk">4000</text>
<line x1="33.9" x2="35.2" y1="475.25" y2="475.25" stroke="#999999" stroke-width="0.5"/>
<text transform="translate(34.2,478.05) scale(0.9,1)" text-anchor="end" font-size="7.8" class="tk">3500</text>
<line x1="33.9" x2="35.2" y1="494.6" y2="494.6" stroke="#999999" stroke-width="0.5"/>
<text transform="translate(34.2,497.4) scale(0.9,1)" text-anchor="end" font-size="7.8" class="tk">3000</text>
<line x1="33.9" x2="35.2" y1="513.95" y2="513.95" stroke="#999999" stroke-width="0.5"/>
<text transform="translate(34.2,516.75) scale(0.9,1)" text-anchor="end" font-size="7.8" class="tk">2500</text>
<line x1="33.9" x2="35.2" y1="533.3" y2="533.3" stroke="#999999" stroke-width="0.5"/>
<text transform="translate(34.2,536.1) scale(0.9,1)" text-anchor="end" font-size="7.8" class="tk">2000</text>
<line x1="57.78" x2="57.78" y1="537" y2="538.8" stroke="#999999" stroke-width="0.5"/>
<line x1="95.42" x2="95.42" y1="537" y2="538.8" stroke="#999999" stroke-width="0.5"/>
<circle cx="57.78" cy="517.9" r="2.4" fill="#0a24cc" stroke="#00106a" stroke-width="0.4"/>
<circle cx="57.78" cy="522.6" r="2.4" fill="#0a24cc" stroke="#00106a" stroke-width="0.4"/>
<circle cx="57.78" cy="532.2" r="2.4" fill="#0a24cc" stroke="#00106a" stroke-width="0.4"/>
<circle cx="95.42" cy="457.5" r="2.4" fill="#d21c00" stroke="#7a0e00" stroke-width="0.4"/>
<circle cx="95.42" cy="481.7" r="2.4" fill="#d21c00" stroke="#7a0e00" stroke-width="0.4"/>
<circle cx="95.42" cy="488.6" r="2.4" fill="#d21c00" stroke="#7a0e00" stroke-width="0.4"/>
<line x1="57.78" x2="57.78" y1="520.4" y2="528.6" stroke="#3a3a3a" stroke-width="0.5"/>
<line x1="48.08" x2="67.48" y1="520.4" y2="520.4" stroke="#3a3a3a" stroke-width="0.5"/>
<line x1="48.08" x2="67.48" y1="528.6" y2="528.6" stroke="#3a3a3a" stroke-width="0.5"/>
<line x1="48.08" x2="67.48" y1="524.5" y2="524.5" stroke="#1a1a1a" stroke-width="0.8"/>
<line x1="95.42" x2="95.42" y1="466.3" y2="485.2" stroke="#3a3a3a" stroke-width="0.5"/>
<line x1="85.72" x2="105.12" y1="466.3" y2="466.3" stroke="#3a3a3a" stroke-width="0.5"/>
<line x1="85.72" x2="105.12" y1="485.2" y2="485.2" stroke="#3a3a3a" stroke-width="0.5"/>
<line x1="85.72" x2="105.12" y1="475.5" y2="475.5" stroke="#1a1a1a" stroke-width="0.8"/>
<text x="76.6" y="449.9" text-anchor="middle" font-size="8.8" class="tt">rhoca</text>
<text transform="translate(15.95,496.3) rotate(-90)" text-anchor="middle" font-size="8.4" class="tt">Normalized counts</text>
<text x="51.9" y="544.6" font-size="8.5" font-style="italic" class="tt">wt</text>
<text x="64.8" y="544.6" font-size="8.5" font-style="italic" class="tt">pax3a<tspan font-size="4.8" dy="-2.5" class="sp">-/-</tspan><tspan dy="2.5">;pax3b</tspan><tspan font-size="4.8" dy="-2.5" class="sp">-/-</tspan></text>
<rect x="148.9" y="452.4" width="83.1" height="84.6" fill="#ebebeb"/>
<line x1="148.9" x2="232" y1="467.15" y2="467.15" stroke="#f2f2f2" stroke-width="0.8"/>
<line x1="148.9" x2="232" y1="486.45" y2="486.45" stroke="#f2f2f2" stroke-width="0.8"/>
<line x1="148.9" x2="232" y1="505.75" y2="505.75" stroke="#f2f2f2" stroke-width="0.8"/>
<line x1="148.9" x2="232" y1="525.05" y2="525.05" stroke="#f2f2f2" stroke-width="0.8"/>
<line x1="148.9" x2="232" y1="457.5" y2="457.5" stroke="#f6f6f6" stroke-width="0.8"/>
<line x1="148.9" x2="232" y1="476.8" y2="476.8" stroke="#f6f6f6" stroke-width="0.8"/>
<line x1="148.9" x2="232" y1="496.1" y2="496.1" stroke="#f6f6f6" stroke-width="0.8"/>
<line x1="148.9" x2="232" y1="515.4" y2="515.4" stroke="#f6f6f6" stroke-width="0.8"/>
<line x1="148.9" x2="232" y1="534.7" y2="534.7" stroke="#f6f6f6" stroke-width="0.8"/>
<line x1="171.56" x2="171.56" y1="452.4" y2="537" stroke="#f1f1f1" stroke-width="0.8"/>
<line x1="209.34" x2="209.34" y1="452.4" y2="537" stroke="#f1f1f1" stroke-width="0.8"/>
<line x1="147.6" x2="148.9" y1="457.5" y2="457.5" stroke="#999999" stroke-width="0.5"/>
<text transform="translate(147.9,460.3) scale(0.9,1)" text-anchor="end" font-size="7.8" class="tk">2200</text>
<line x1="147.6" x2="148.9" y1="476.8" y2="476.8" stroke="#999999" stroke-width="0.5"/>
<text transform="translate(147.9,479.6) scale(0.9,1)" text-anchor="end" font-size="7.8" class="tk">2000</text>
<line x1="147.6" x2="148.9" y1="496.1" y2="496.1" stroke="#999999" stroke-width="0.5"/>
<text transform="translate(147.9,498.9) scale(0.9,1)" text-anchor="end" font-size="7.8" class="tk">1800</text>
<line x1="147.6" x2="148.9" y1="515.4" y2="515.4" stroke="#999999" stroke-width="0.5"/>
<text transform="translate(147.9,518.2) scale(0.9,1)" text-anchor="end" font-size="7.8" class="tk">1600</text>
<line x1="147.6" x2="148.9" y1="534.7" y2="534.7" stroke="#999999" stroke-width="0.5"/>
<text transform="translate(147.9,537.5) scale(0.9,1)" text-anchor="end" font-size="7.8" class="tk">1400</text>
<line x1="171.56" x2="171.56" y1="537" y2="538.8" stroke="#999999" stroke-width="0.5"/>
<line x1="209.34" x2="209.34" y1="537" y2="538.8" stroke="#999999" stroke-width="0.5"/>
<circle cx="171.56" cy="508.1" r="2.4" fill="#0a24cc" stroke="#00106a" stroke-width="0.4"/>
<circle cx="171.56" cy="521.4" r="2.4" fill="#0a24cc" stroke="#00106a" stroke-width="0.4"/>
<circle cx="171.56" cy="532.2" r="2.4" fill="#0a24cc" stroke="#00106a" stroke-width="0.4"/>
<circle cx="209.34" cy="457.5" r="2.4" fill="#d21c00" stroke="#7a0e00" stroke-width="0.4"/>
<circle cx="209.34" cy="479" r="2.4" fill="#d21c00" stroke="#7a0e00" stroke-width="0.4"/>
<circle cx="209.34" cy="488.6" r="2.4" fill="#d21c00" stroke="#7a0e00" stroke-width="0.4"/>
<line x1="171.56" x2="171.56" y1="513.2" y2="527.5" stroke="#3a3a3a" stroke-width="0.5"/>
<line x1="161.86" x2="181.26" y1="513.2" y2="513.2" stroke="#3a3a3a" stroke-width="0.5"/>
<line x1="161.86" x2="181.26" y1="527.5" y2="527.5" stroke="#3a3a3a" stroke-width="0.5"/>
<line x1="161.86" x2="181.26" y1="520.4" y2="520.4" stroke="#1a1a1a" stroke-width="0.8"/>
<line x1="209.34" x2="209.34" y1="465.9" y2="484.3" stroke="#3a3a3a" stroke-width="0.5"/>
<line x1="199.64" x2="219.04" y1="465.9" y2="465.9" stroke="#3a3a3a" stroke-width="0.5"/>
<line x1="199.64" x2="219.04" y1="484.3" y2="484.3" stroke="#3a3a3a" stroke-width="0.5"/>
<line x1="199.64" x2="219.04" y1="475.1" y2="475.1" stroke="#1a1a1a" stroke-width="0.8"/>
<text x="190.45" y="449.9" text-anchor="middle" font-size="8.8" class="tt">rps6ka3a</text>
<text transform="translate(130.05,496.3) rotate(-90)" text-anchor="middle" font-size="8.4" class="tt">Normalized counts</text>
<text x="165.5" y="544.6" font-size="8.5" class="tt">wt</text>
<text x="178.9" y="544.6" font-size="8.5" font-style="italic" class="tt">pax3a<tspan font-size="4.8" dy="-2.5" class="sp">-/-</tspan><tspan dy="2.5">;pax3b</tspan><tspan font-size="4.8" dy="-2.5" class="sp">-/-</tspan></text>
<rect x="260.9" y="452.4" width="83" height="84.6" fill="#ebebeb"/>
<line x1="260.9" x2="343.9" y1="464" y2="464" stroke="#f2f2f2" stroke-width="0.8"/>
<line x1="260.9" x2="343.9" y1="483.2" y2="483.2" stroke="#f2f2f2" stroke-width="0.8"/>
<line x1="260.9" x2="343.9" y1="502.4" y2="502.4" stroke="#f2f2f2" stroke-width="0.8"/>
<line x1="260.9" x2="343.9" y1="521.6" y2="521.6" stroke="#f2f2f2" stroke-width="0.8"/>
<line x1="260.9" x2="343.9" y1="454.4" y2="454.4" stroke="#f6f6f6" stroke-width="0.8"/>
<line x1="260.9" x2="343.9" y1="473.6" y2="473.6" stroke="#f6f6f6" stroke-width="0.8"/>
<line x1="260.9" x2="343.9" y1="492.8" y2="492.8" stroke="#f6f6f6" stroke-width="0.8"/>
<line x1="260.9" x2="343.9" y1="512" y2="512" stroke="#f6f6f6" stroke-width="0.8"/>
<line x1="260.9" x2="343.9" y1="531.2" y2="531.2" stroke="#f6f6f6" stroke-width="0.8"/>
<line x1="283.54" x2="283.54" y1="452.4" y2="537" stroke="#f1f1f1" stroke-width="0.8"/>
<line x1="321.26" x2="321.26" y1="452.4" y2="537" stroke="#f1f1f1" stroke-width="0.8"/>
<line x1="259.6" x2="260.9" y1="454.4" y2="454.4" stroke="#999999" stroke-width="0.5"/>
<text transform="translate(259.9,457.2) scale(0.9,1)" text-anchor="end" font-size="7.8" class="tk">1100</text>
<line x1="259.6" x2="260.9" y1="473.6" y2="473.6" stroke="#999999" stroke-width="0.5"/>
<text transform="translate(259.9,476.4) scale(0.9,1)" text-anchor="end" font-size="7.8" class="tk">1000</text>
<line x1="259.6" x2="260.9" y1="492.8" y2="492.8" stroke="#999999" stroke-width="0.5"/>
<text transform="translate(259.9,495.6) scale(0.9,1)" text-anchor="end" font-size="7.8" class="tk">900</text>
<line x1="259.6" x2="260.9" y1="512" y2="512" stroke="#999999" stroke-width="0.5"/>
<text transform="translate(259.9,514.8) scale(0.9,1)" text-anchor="end" font-size="7.8" class="tk">800</text>
<line x1="259.6" x2="260.9" y1="531.2" y2="531.2" stroke="#999999" stroke-width="0.5"/>
<text transform="translate(259.9,534) scale(0.9,1)" text-anchor="end" font-size="7.8" class="tk">700</text>
<line x1="283.54" x2="283.54" y1="537" y2="538.8" stroke="#999999" stroke-width="0.5"/>
<line x1="321.26" x2="321.26" y1="537" y2="538.8" stroke="#999999" stroke-width="0.5"/>
<circle cx="283.54" cy="506.2" r="2.4" fill="#0a24cc" stroke="#00106a" stroke-width="0.4"/>
<circle cx="283.54" cy="522.6" r="2.4" fill="#0a24cc" stroke="#00106a" stroke-width="0.4"/>
<circle cx="283.54" cy="532.2" r="2.4" fill="#0a24cc" stroke="#00106a" stroke-width="0.4"/>
<circle cx="321.26" cy="457.5" r="2.4" fill="#d21c00" stroke="#7a0e00" stroke-width="0.4"/>
<circle cx="318.76" cy="474.3" r="2.4" fill="#d21c00" stroke="#7a0e00" stroke-width="0.4"/>
<circle cx="323.76" cy="474.3" r="2.4" fill="#d21c00" stroke="#7a0e00" stroke-width="0.4"/>
<line x1="283.54" x2="283.54" y1="512.8" y2="528.2" stroke="#3a3a3a" stroke-width="0.5"/>
<line x1="273.84" x2="293.24" y1="512.8" y2="512.8" stroke="#3a3a3a" stroke-width="0.5"/>
<line x1="273.84" x2="293.24" y1="528.2" y2="528.2" stroke="#3a3a3a" stroke-width="0.5"/>
<line x1="273.84" x2="293.24" y1="520.2" y2="520.2" stroke="#1a1a1a" stroke-width="0.8"/>
<line x1="321.26" x2="321.26" y1="463.3" y2="474.3" stroke="#3a3a3a" stroke-width="0.5"/>
<line x1="311.56" x2="330.96" y1="463.3" y2="463.3" stroke="#3a3a3a" stroke-width="0.5"/>
<line x1="311.56" x2="330.96" y1="474.3" y2="474.3" stroke="#3a3a3a" stroke-width="0.5"/>
<line x1="311.56" x2="330.96" y1="468.6" y2="468.6" stroke="#1a1a1a" stroke-width="0.8"/>
<text x="302.4" y="449.9" text-anchor="middle" font-size="8.8" class="tt">stat3</text>
<text transform="translate(242.65,496.3) rotate(-90)" text-anchor="middle" font-size="8.4" class="tt">Normalized counts</text>
<text x="277.3" y="544.6" font-size="8.5" font-style="italic" class="tt">wt</text>
<text x="292.5" y="544.6" font-size="8.5" font-style="italic" class="tt">pax3a<tspan font-size="4.8" dy="-2.5" class="sp">-/-</tspan><tspan dy="2.5">;pax3b</tspan><tspan font-size="4.8" dy="-2.5" class="sp">-/-</tspan></text>
</g>
</svg>
</body></html>
